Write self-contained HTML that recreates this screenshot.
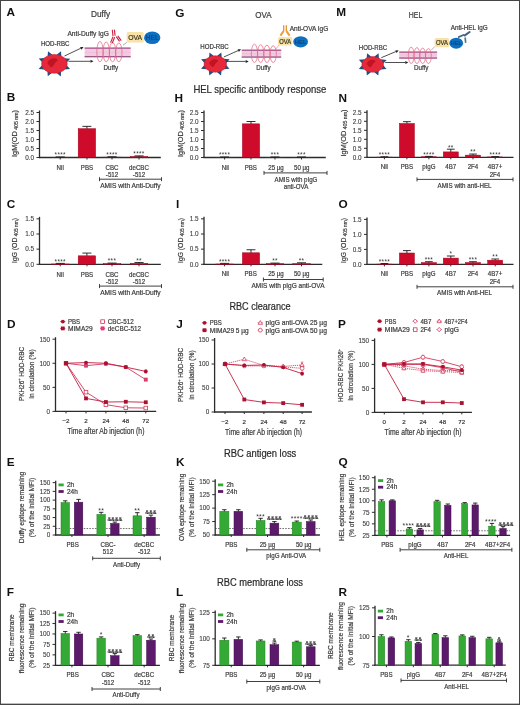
<!DOCTYPE html><html><head><meta charset="utf-8"><style>html,body{margin:0;padding:0;background:#fff;}svg{display:block;font-family:"Liberation Sans", sans-serif;filter:blur(0.3px);}.wrap{position:relative;width:520px;height:705px;overflow:hidden;}.frame{position:absolute;left:0;top:0;width:520px;height:705px;pointer-events:none;}</style></head><body><div class="wrap">
<svg width="520" height="705" viewBox="0 0 520 705">
<rect x="0" y="0" width="520" height="705" fill="#fff"/>
<text x="6.60" y="16.15" font-size="11.8" text-anchor="start" fill="#111" font-weight="bold">A</text>
<text x="100.50" y="17.35" font-size="8.2" text-anchor="middle" fill="#3a3a3a" font-weight="normal" textLength="19.20" lengthAdjust="spacingAndGlyphs" stroke="#3a3a3a" stroke-width="0.2">Duffy</text>
<text x="88.20" y="35.98" font-size="6.6" text-anchor="middle" fill="#3a3a3a" font-weight="normal" textLength="41.50" lengthAdjust="spacingAndGlyphs" stroke="#3a3a3a" stroke-width="0.2">Anti-Duffy IgG</text>
<text x="55.20" y="46.47" font-size="6.3" text-anchor="middle" fill="#3a3a3a" font-weight="normal" textLength="28.50" lengthAdjust="spacingAndGlyphs" stroke="#3a3a3a" stroke-width="0.2">HOD-RBC</text>
<polygon points="52.40,54.81 48.03,51.19 47.58,56.76" fill="#1d5282"/><polygon points="61.39,56.86 61.04,51.28 56.61,54.82" fill="#1d5282"/><polygon points="66.29,62.97 70.16,58.71 64.34,58.15" fill="#1d5282"/><polygon points="64.22,69.57 70.05,69.11 66.26,64.79" fill="#1d5282"/><polygon points="56.40,72.79 60.77,76.41 61.22,70.84" fill="#1d5282"/><polygon points="47.41,70.74 47.76,76.32 52.19,72.78" fill="#1d5282"/><polygon points="42.51,64.63 38.64,68.89 44.46,69.45" fill="#1d5282"/><polygon points="44.58,58.03 38.75,58.49 42.54,62.81" fill="#1d5282"/>
<ellipse cx="54.4" cy="63.8" rx="12.8" ry="9.4" fill="#e5293b" stroke="#d01a2e" stroke-width="0.6"/>
<path d="M47.36,63.33 C48.64,56.75 58.88,57.22 57.60,60.98 C54.40,61.45 53.76,68.03 50.56,67.09 Z" fill="#b8101e" opacity="0.85"/>
<line x1="64.50" y1="56.00" x2="80.79" y2="48.28" stroke="#222" stroke-width="0.8"/>
<polygon points="83.50,47.00 81.43,49.64 80.15,46.93" fill="#222"/>
<line x1="68.50" y1="61.30" x2="90.50" y2="61.30" stroke="#222" stroke-width="0.8"/>
<polygon points="93.50,61.30 90.50,62.80 90.50,59.80" fill="#222"/>
<rect x="84.60" y="47.50" width="46.10" height="9.80" fill="#f2cbe1" stroke="none" stroke-width="0"/>
<rect x="84.60" y="47.50" width="46.10" height="1.30" fill="#a8578c" stroke="none" stroke-width="0"/>
<rect x="84.60" y="56.00" width="46.10" height="1.30" fill="#9a5a88" stroke="none" stroke-width="0"/>
<line x1="84.60" y1="52.40" x2="130.70" y2="52.40" stroke="#e9b6d3" stroke-width="0.5"/>
<ellipse cx="99.95" cy="51.65" rx="3.15" ry="10.15" fill="none" stroke="#e5607c" stroke-width="0.7"/>
<ellipse cx="106.25" cy="51.90" rx="3.15" ry="9.90" fill="none" stroke="#e5607c" stroke-width="0.7"/>
<ellipse cx="112.55" cy="52.15" rx="3.15" ry="9.65" fill="none" stroke="#e5607c" stroke-width="0.7"/>
<ellipse cx="118.85" cy="52.40" rx="3.15" ry="9.40" fill="none" stroke="#e5607c" stroke-width="0.7"/>
<g stroke="#cc2444" stroke-width="1.15" stroke-linecap="butt" fill="none"><path d="M112.3,29.8 L113.0,36.0 M114.4,29.6 L115.1,35.8"/><path d="M113.0,36.6 L110.6,42.6 M114.6,37.2 L112.2,43.2"/><path d="M116.2,36.6 L119.6,41.4 M117.8,35.8 L121.2,40.6"/></g>
<text x="110.80" y="69.97" font-size="6.3" text-anchor="middle" fill="#3a3a3a" font-weight="normal" textLength="14.40" lengthAdjust="spacingAndGlyphs" stroke="#3a3a3a" stroke-width="0.2">Duffy</text>
<line x1="123.00" y1="45.20" x2="126.80" y2="42.40" stroke="#555" stroke-width="0.5"/>
<rect x="126.7" y="32.0" width="16.89999999999999" height="10.600000000000001" rx="1.5" fill="#f7e3a6"/>
<text x="135.15" y="39.89" font-size="7.2" text-anchor="middle" fill="#3a3320" font-weight="normal" textLength="13.86" lengthAdjust="spacingAndGlyphs" stroke="#3a3320" stroke-width="0.2">OVA</text>
<ellipse cx="152.2" cy="37.8" rx="8.2" ry="6.3" fill="#0d6fbf"/>
<text x="152.20" y="40.18" font-size="6.6" text-anchor="middle" fill="#0b4a8a" font-weight="normal" textLength="12.71" lengthAdjust="spacingAndGlyphs" stroke="#0b4a8a" stroke-width="0.2">HEL</text>
<text x="175.30" y="16.75" font-size="11.8" text-anchor="start" fill="#111" font-weight="bold">G</text>
<text x="263.40" y="17.85" font-size="8.2" text-anchor="middle" fill="#3a3a3a" font-weight="normal" textLength="16.30" lengthAdjust="spacingAndGlyphs" stroke="#3a3a3a" stroke-width="0.2">OVA</text>
<text x="214.50" y="49.27" font-size="6.3" text-anchor="middle" fill="#3a3a3a" font-weight="normal" textLength="28.50" lengthAdjust="spacingAndGlyphs" stroke="#3a3a3a" stroke-width="0.2">HOD-RBC</text>
<polygon points="213.85,56.03 209.53,52.50 209.03,57.98" fill="#1d5282"/><polygon points="221.72,58.07 221.32,52.59 216.93,56.04" fill="#1d5282"/><polygon points="225.83,63.58 229.58,59.35 223.88,58.76" fill="#1d5282"/><polygon points="223.77,69.34 229.48,68.85 225.80,64.55" fill="#1d5282"/><polygon points="216.75,71.97 221.07,75.50 221.57,70.02" fill="#1d5282"/><polygon points="208.88,69.93 209.28,75.41 213.67,71.96" fill="#1d5282"/><polygon points="204.77,64.42 201.02,68.65 206.72,69.24" fill="#1d5282"/><polygon points="206.83,58.66 201.12,59.15 204.80,63.45" fill="#1d5282"/>
<ellipse cx="215.3" cy="64.0" rx="11.2" ry="8.2" fill="#e5293b" stroke="#d01a2e" stroke-width="0.6"/>
<path d="M209.14,63.59 C210.26,57.85 219.22,58.26 218.10,61.54 C215.30,61.95 214.74,67.69 211.94,66.87 Z" fill="#b8101e" opacity="0.85"/>
<line x1="223.80" y1="57.00" x2="238.26" y2="50.53" stroke="#222" stroke-width="0.8"/>
<polygon points="241.00,49.30 238.87,51.89 237.65,49.16" fill="#222"/>
<line x1="226.50" y1="61.40" x2="245.70" y2="61.40" stroke="#222" stroke-width="0.8"/>
<polygon points="248.70,61.40 245.70,62.90 245.70,59.90" fill="#222"/>
<rect x="241.70" y="49.60" width="39.50" height="8.10" fill="#f2cbe1" stroke="none" stroke-width="0"/>
<rect x="241.70" y="49.60" width="39.50" height="1.30" fill="#a8578c" stroke="none" stroke-width="0"/>
<rect x="241.70" y="56.40" width="39.50" height="1.30" fill="#9a5a88" stroke="none" stroke-width="0"/>
<line x1="241.70" y1="53.65" x2="281.20" y2="53.65" stroke="#e9b6d3" stroke-width="0.5"/>
<ellipse cx="254.43" cy="53.35" rx="3.12" ry="9.15" fill="none" stroke="#e5607c" stroke-width="0.7"/>
<ellipse cx="260.68" cy="53.60" rx="3.12" ry="8.90" fill="none" stroke="#e5607c" stroke-width="0.7"/>
<ellipse cx="266.93" cy="53.85" rx="3.12" ry="8.65" fill="none" stroke="#e5607c" stroke-width="0.7"/>
<ellipse cx="273.18" cy="54.10" rx="3.12" ry="8.40" fill="none" stroke="#e5607c" stroke-width="0.7"/>
<text x="263.40" y="69.67" font-size="6.3" text-anchor="middle" fill="#3a3a3a" font-weight="normal" textLength="14.40" lengthAdjust="spacingAndGlyphs" stroke="#3a3a3a" stroke-width="0.2">Duffy</text>
<line x1="275.40" y1="49.50" x2="280.00" y2="44.00" stroke="#d87090" stroke-width="0.6"/>
<g stroke="#e8922c" fill="none" stroke-linecap="butt"><path d="M283.7,25.2 L283.7,31.0 M286.3,25.2 L286.3,31.0" stroke-width="1.3"/><path d="M283.6,31.0 L280.4,35.6 M286.4,31.0 L289.6,35.6" stroke-width="2.0" stroke="#ee9a3a"/></g>
<text x="309.00" y="30.58" font-size="6.6" text-anchor="middle" fill="#3a3a3a" font-weight="normal" textLength="38.50" lengthAdjust="spacingAndGlyphs" stroke="#3a3a3a" stroke-width="0.2">Anti-OVA IgG</text>
<rect x="278.0" y="37.0" width="14.399999999999977" height="8.399999999999999" rx="1.5" fill="#f7e3a6"/>
<text x="285.20" y="43.65" font-size="6.8" text-anchor="middle" fill="#3a3320" font-weight="normal" textLength="11.81" lengthAdjust="spacingAndGlyphs" stroke="#3a3320" stroke-width="0.2">OVA</text>
<ellipse cx="300.6" cy="41.8" rx="7.4" ry="5.6" fill="#0d6fbf"/>
<text x="300.60" y="43.89" font-size="5.8" text-anchor="middle" fill="#0b4a8a" font-weight="normal" textLength="11.47" lengthAdjust="spacingAndGlyphs" stroke="#0b4a8a" stroke-width="0.2">HEL</text>
<text x="336.20" y="15.85" font-size="11.8" text-anchor="start" fill="#111" font-weight="bold">M</text>
<text x="415.50" y="18.05" font-size="8.2" text-anchor="middle" fill="#3a3a3a" font-weight="normal" textLength="13.50" lengthAdjust="spacingAndGlyphs" stroke="#3a3a3a" stroke-width="0.2">HEL</text>
<text x="373.00" y="50.47" font-size="6.3" text-anchor="middle" fill="#3a3a3a" font-weight="normal" textLength="28.30" lengthAdjust="spacingAndGlyphs" stroke="#3a3a3a" stroke-width="0.2">HOD-RBC</text>
<polygon points="371.39,56.77 367.08,53.27 366.57,58.72" fill="#1d5282"/><polygon points="378.98,58.81 378.56,53.35 374.19,56.78" fill="#1d5282"/><polygon points="382.89,64.12 386.61,59.90 380.94,59.30" fill="#1d5282"/><polygon points="380.83,69.60 386.51,69.09 382.86,64.81" fill="#1d5282"/><polygon points="374.01,72.03 378.32,75.53 378.83,70.08" fill="#1d5282"/><polygon points="366.42,69.99 366.84,75.45 371.21,72.02" fill="#1d5282"/><polygon points="362.51,64.68 358.79,68.90 364.46,69.50" fill="#1d5282"/><polygon points="364.57,59.20 358.89,59.71 362.54,63.99" fill="#1d5282"/>
<ellipse cx="372.7" cy="64.4" rx="10.8" ry="7.8" fill="#e5293b" stroke="#d01a2e" stroke-width="0.6"/>
<path d="M366.76,64.01 C367.84,58.55 376.48,58.94 375.40,62.06 C372.70,62.45 372.16,67.91 369.46,67.13 Z" fill="#b8101e" opacity="0.85"/>
<line x1="381.30" y1="57.70" x2="395.93" y2="51.56" stroke="#222" stroke-width="0.8"/>
<polygon points="398.70,50.40 396.51,52.94 395.35,50.18" fill="#222"/>
<line x1="385.20" y1="62.50" x2="405.30" y2="62.50" stroke="#222" stroke-width="0.8"/>
<polygon points="408.30,62.50 405.30,64.00 405.30,61.00" fill="#222"/>
<rect x="399.20" y="51.50" width="37.90" height="7.20" fill="#f2cbe1" stroke="none" stroke-width="0"/>
<rect x="399.20" y="51.50" width="37.90" height="1.30" fill="#a8578c" stroke="none" stroke-width="0"/>
<rect x="399.20" y="57.40" width="37.90" height="1.30" fill="#9a5a88" stroke="none" stroke-width="0"/>
<line x1="399.20" y1="55.10" x2="437.10" y2="55.10" stroke="#e9b6d3" stroke-width="0.5"/>
<ellipse cx="411.18" cy="55.30" rx="2.88" ry="8.20" fill="none" stroke="#e5607c" stroke-width="0.7"/>
<ellipse cx="416.93" cy="55.55" rx="2.88" ry="7.95" fill="none" stroke="#e5607c" stroke-width="0.7"/>
<ellipse cx="422.68" cy="55.80" rx="2.88" ry="7.70" fill="none" stroke="#e5607c" stroke-width="0.7"/>
<ellipse cx="428.43" cy="56.05" rx="2.88" ry="7.45" fill="none" stroke="#e5607c" stroke-width="0.7"/>
<text x="421.20" y="70.07" font-size="6.3" text-anchor="middle" fill="#3a3a3a" font-weight="normal" textLength="14.50" lengthAdjust="spacingAndGlyphs" stroke="#3a3a3a" stroke-width="0.2">Duffy</text>
<text x="469.20" y="30.18" font-size="6.6" text-anchor="middle" fill="#3a3a3a" font-weight="normal" textLength="37.00" lengthAdjust="spacingAndGlyphs" stroke="#3a3a3a" stroke-width="0.2">Anti-HEL IgG</text>
<g stroke="#3d6384" fill="none" stroke-linecap="round"><path d="M458.8,37.0 L463.4,35.0" stroke-width="1.9"/><path d="M464.8,35.4 L469.6,32.0" stroke-width="2.1"/><path d="M465.2,38.2 L465.6,42.2" stroke-width="1.7" stroke="#4a7a8a"/></g>
<line x1="431.50" y1="50.00" x2="434.80" y2="46.60" stroke="#666" stroke-width="0.5"/>
<rect x="434.6" y="38.0" width="14.599999999999966" height="9.299999999999997" rx="1.5" fill="#f7e3a6"/>
<text x="441.90" y="45.03" font-size="6.6" text-anchor="middle" fill="#3a3320" font-weight="normal" textLength="11.97" lengthAdjust="spacingAndGlyphs" stroke="#3a3320" stroke-width="0.2">OVA</text>
<ellipse cx="456.2" cy="43.2" rx="6.9" ry="5.5" fill="#0d6fbf"/>
<text x="456.20" y="45.07" font-size="5.2" text-anchor="middle" fill="#0b4a8a" font-weight="normal" textLength="10.70" lengthAdjust="spacingAndGlyphs" stroke="#0b4a8a" stroke-width="0.2">HEL</text>
<text x="259.90" y="92.97" font-size="10.2" text-anchor="middle" fill="#2a2a2a" font-weight="normal" textLength="133.00" lengthAdjust="spacingAndGlyphs" stroke="#2a2a2a" stroke-width="0.2">HEL specific antibody response</text>
<text x="260.00" y="309.60" font-size="10.0" text-anchor="middle" fill="#2a2a2a" font-weight="normal" textLength="61.20" lengthAdjust="spacingAndGlyphs" stroke="#2a2a2a" stroke-width="0.2">RBC clearance</text>
<text x="260.10" y="457.40" font-size="10.0" text-anchor="middle" fill="#2a2a2a" font-weight="normal" textLength="72.40" lengthAdjust="spacingAndGlyphs" stroke="#2a2a2a" stroke-width="0.2">RBC antigen loss</text>
<text x="260.00" y="586.20" font-size="10.0" text-anchor="middle" fill="#2a2a2a" font-weight="normal" textLength="86.00" lengthAdjust="spacingAndGlyphs" stroke="#2a2a2a" stroke-width="0.2">RBC membrane loss</text>
<text x="6.80" y="100.95" font-size="11.8" text-anchor="start" fill="#111" font-weight="bold">B</text>
<line x1="39.50" y1="110.50" x2="39.50" y2="158.10" stroke="#2b2b2b" stroke-width="1.3"/>
<line x1="36.50" y1="157.50" x2="39.50" y2="157.50" stroke="#2b2b2b" stroke-width="1.0"/>
<text x="34.10" y="159.80" font-size="6.4" text-anchor="end" fill="#3a3a3a" font-weight="normal" stroke="#3a3a3a" stroke-width="0.1">0.0</text>
<line x1="36.50" y1="148.50" x2="39.50" y2="148.50" stroke="#2b2b2b" stroke-width="1.0"/>
<text x="34.10" y="150.80" font-size="6.4" text-anchor="end" fill="#3a3a3a" font-weight="normal" stroke="#3a3a3a" stroke-width="0.1">0.5</text>
<line x1="36.50" y1="139.50" x2="39.50" y2="139.50" stroke="#2b2b2b" stroke-width="1.0"/>
<text x="34.10" y="141.80" font-size="6.4" text-anchor="end" fill="#3a3a3a" font-weight="normal" stroke="#3a3a3a" stroke-width="0.1">1.0</text>
<line x1="36.50" y1="130.50" x2="39.50" y2="130.50" stroke="#2b2b2b" stroke-width="1.0"/>
<text x="34.10" y="132.80" font-size="6.4" text-anchor="end" fill="#3a3a3a" font-weight="normal" stroke="#3a3a3a" stroke-width="0.1">1.5</text>
<line x1="36.50" y1="121.50" x2="39.50" y2="121.50" stroke="#2b2b2b" stroke-width="1.0"/>
<text x="34.10" y="123.80" font-size="6.4" text-anchor="end" fill="#3a3a3a" font-weight="normal" stroke="#3a3a3a" stroke-width="0.1">2.0</text>
<line x1="36.50" y1="112.50" x2="39.50" y2="112.50" stroke="#2b2b2b" stroke-width="1.0"/>
<text x="34.10" y="114.80" font-size="6.4" text-anchor="end" fill="#3a3a3a" font-weight="normal" stroke="#3a3a3a" stroke-width="0.1">2.5</text>
<line x1="38.90" y1="157.50" x2="160.80" y2="157.50" stroke="#2b2b2b" stroke-width="1.3"/>
<line x1="60.20" y1="157.50" x2="60.20" y2="159.50" stroke="#2b2b2b" stroke-width="1.0"/>
<line x1="87.00" y1="157.50" x2="87.00" y2="159.50" stroke="#2b2b2b" stroke-width="1.0"/>
<line x1="112.00" y1="157.50" x2="112.00" y2="159.50" stroke="#2b2b2b" stroke-width="1.0"/>
<line x1="139.00" y1="157.50" x2="139.00" y2="159.50" stroke="#2b2b2b" stroke-width="1.0"/>
<rect x="51.50" y="157.23" width="17.50" height="0.27" fill="#cf0b2b" stroke="#a3001c" stroke-width="0.5"/>
<line x1="60.25" y1="157.23" x2="60.25" y2="156.96" stroke="#1a1a1a" stroke-width="0.9"/>
<line x1="55.70" y1="156.96" x2="64.80" y2="156.96" stroke="#1a1a1a" stroke-width="0.9"/>
<text x="60.25" y="157.26" font-size="6.4" text-anchor="middle" fill="#333" font-weight="normal" letter-spacing="0.35">****</text>
<rect x="78.20" y="128.70" width="17.40" height="28.80" fill="#cf0b2b" stroke="#a3001c" stroke-width="0.5"/>
<line x1="86.90" y1="128.70" x2="86.90" y2="126.36" stroke="#1a1a1a" stroke-width="0.9"/>
<line x1="82.38" y1="126.36" x2="91.42" y2="126.36" stroke="#1a1a1a" stroke-width="0.9"/>
<rect x="103.30" y="157.14" width="17.50" height="0.36" fill="#cf0b2b" stroke="#a3001c" stroke-width="0.5"/>
<line x1="112.05" y1="157.14" x2="112.05" y2="156.78" stroke="#1a1a1a" stroke-width="0.9"/>
<line x1="107.50" y1="156.78" x2="116.60" y2="156.78" stroke="#1a1a1a" stroke-width="0.9"/>
<text x="112.05" y="157.08" font-size="6.4" text-anchor="middle" fill="#333" font-weight="normal" letter-spacing="0.35">****</text>
<rect x="130.30" y="156.60" width="17.50" height="0.90" fill="#cf0b2b" stroke="#a3001c" stroke-width="0.5"/>
<line x1="139.05" y1="156.60" x2="139.05" y2="155.88" stroke="#1a1a1a" stroke-width="0.9"/>
<line x1="134.50" y1="155.88" x2="143.60" y2="155.88" stroke="#1a1a1a" stroke-width="0.9"/>
<text x="139.05" y="156.18" font-size="6.4" text-anchor="middle" fill="#333" font-weight="normal" letter-spacing="0.35">****</text>
<text x="60.20" y="169.52" font-size="7.0" text-anchor="middle" fill="#3a3a3a" font-weight="normal" textLength="7.19" lengthAdjust="spacingAndGlyphs" stroke="#3a3a3a" stroke-width="0.2">Nil</text>
<text x="87.00" y="169.52" font-size="7.0" text-anchor="middle" fill="#3a3a3a" font-weight="normal" textLength="12.33" lengthAdjust="spacingAndGlyphs" stroke="#3a3a3a" stroke-width="0.2">PBS</text>
<text x="112.00" y="169.52" font-size="7.0" text-anchor="middle" fill="#3a3a3a" font-weight="normal" textLength="13.01" lengthAdjust="spacingAndGlyphs" stroke="#3a3a3a" stroke-width="0.2">CBC</text>
<text x="112.00" y="176.62" font-size="7.0" text-anchor="middle" fill="#3a3a3a" font-weight="normal" textLength="12.33" lengthAdjust="spacingAndGlyphs" stroke="#3a3a3a" stroke-width="0.2">-512</text>
<text x="139.00" y="169.52" font-size="7.0" text-anchor="middle" fill="#3a3a3a" font-weight="normal" textLength="19.86" lengthAdjust="spacingAndGlyphs" stroke="#3a3a3a" stroke-width="0.2">deCBC</text>
<text x="139.00" y="176.62" font-size="7.0" text-anchor="middle" fill="#3a3a3a" font-weight="normal" textLength="12.33" lengthAdjust="spacingAndGlyphs" stroke="#3a3a3a" stroke-width="0.2">-512</text>
<line x1="99.50" y1="179.20" x2="161.50" y2="179.20" stroke="#2b2b2b" stroke-width="0.9"/>
<line x1="99.50" y1="177.20" x2="99.50" y2="181.20" stroke="#2b2b2b" stroke-width="0.9"/>
<line x1="161.50" y1="177.20" x2="161.50" y2="181.20" stroke="#2b2b2b" stroke-width="0.9"/>
<text x="130.40" y="187.52" font-size="7.0" text-anchor="middle" fill="#3a3a3a" font-weight="normal" textLength="60.50" lengthAdjust="spacingAndGlyphs" stroke="#3a3a3a" stroke-width="0.2">AMIS with Anti-Duffy</text>
<text transform="translate(16.84,133.50) rotate(-90)" font-size="7.9" text-anchor="middle" fill="#3a3a3a" font-weight="normal" textLength="47.00" lengthAdjust="spacingAndGlyphs" stroke="#3a3a3a" stroke-width="0.2">IgM(OD<tspan font-size="5.6" dy="1.5"> 405 nm</tspan><tspan dy="-1.5">)</tspan></text>
<text x="6.80" y="208.15" font-size="11.8" text-anchor="start" fill="#111" font-weight="bold">C</text>
<line x1="39.50" y1="216.85" x2="39.50" y2="264.90" stroke="#2b2b2b" stroke-width="1.3"/>
<line x1="36.50" y1="264.30" x2="39.50" y2="264.30" stroke="#2b2b2b" stroke-width="1.0"/>
<text x="34.10" y="266.60" font-size="6.4" text-anchor="end" fill="#3a3a3a" font-weight="normal" stroke="#3a3a3a" stroke-width="0.1">0.0</text>
<line x1="36.50" y1="249.15" x2="39.50" y2="249.15" stroke="#2b2b2b" stroke-width="1.0"/>
<text x="34.10" y="251.45" font-size="6.4" text-anchor="end" fill="#3a3a3a" font-weight="normal" stroke="#3a3a3a" stroke-width="0.1">0.5</text>
<line x1="36.50" y1="234.00" x2="39.50" y2="234.00" stroke="#2b2b2b" stroke-width="1.0"/>
<text x="34.10" y="236.30" font-size="6.4" text-anchor="end" fill="#3a3a3a" font-weight="normal" stroke="#3a3a3a" stroke-width="0.1">1.0</text>
<line x1="36.50" y1="218.85" x2="39.50" y2="218.85" stroke="#2b2b2b" stroke-width="1.0"/>
<text x="34.10" y="221.15" font-size="6.4" text-anchor="end" fill="#3a3a3a" font-weight="normal" stroke="#3a3a3a" stroke-width="0.1">1.5</text>
<line x1="38.90" y1="264.30" x2="160.80" y2="264.30" stroke="#2b2b2b" stroke-width="1.3"/>
<line x1="60.20" y1="264.30" x2="60.20" y2="266.30" stroke="#2b2b2b" stroke-width="1.0"/>
<line x1="87.00" y1="264.30" x2="87.00" y2="266.30" stroke="#2b2b2b" stroke-width="1.0"/>
<line x1="112.00" y1="264.30" x2="112.00" y2="266.30" stroke="#2b2b2b" stroke-width="1.0"/>
<line x1="139.00" y1="264.30" x2="139.00" y2="266.30" stroke="#2b2b2b" stroke-width="1.0"/>
<rect x="51.50" y="264.00" width="17.50" height="0.30" fill="#cf0b2b" stroke="#a3001c" stroke-width="0.5"/>
<line x1="60.25" y1="264.00" x2="60.25" y2="263.39" stroke="#1a1a1a" stroke-width="0.9"/>
<line x1="55.70" y1="263.39" x2="64.80" y2="263.39" stroke="#1a1a1a" stroke-width="0.9"/>
<text x="60.25" y="263.69" font-size="6.4" text-anchor="middle" fill="#333" font-weight="normal" letter-spacing="0.35">****</text>
<rect x="78.20" y="255.82" width="17.40" height="8.48" fill="#cf0b2b" stroke="#a3001c" stroke-width="0.5"/>
<line x1="86.90" y1="255.82" x2="86.90" y2="253.09" stroke="#1a1a1a" stroke-width="0.9"/>
<line x1="82.38" y1="253.09" x2="91.42" y2="253.09" stroke="#1a1a1a" stroke-width="0.9"/>
<rect x="103.30" y="263.69" width="17.50" height="0.61" fill="#cf0b2b" stroke="#a3001c" stroke-width="0.5"/>
<line x1="112.05" y1="263.69" x2="112.05" y2="263.09" stroke="#1a1a1a" stroke-width="0.9"/>
<line x1="107.50" y1="263.09" x2="116.60" y2="263.09" stroke="#1a1a1a" stroke-width="0.9"/>
<text x="112.05" y="263.39" font-size="6.4" text-anchor="middle" fill="#333" font-weight="normal" letter-spacing="0.35">***</text>
<rect x="130.30" y="263.39" width="17.50" height="0.91" fill="#cf0b2b" stroke="#a3001c" stroke-width="0.5"/>
<line x1="139.05" y1="263.39" x2="139.05" y2="262.48" stroke="#1a1a1a" stroke-width="0.9"/>
<line x1="134.50" y1="262.48" x2="143.60" y2="262.48" stroke="#1a1a1a" stroke-width="0.9"/>
<text x="139.05" y="262.78" font-size="6.4" text-anchor="middle" fill="#333" font-weight="normal" letter-spacing="0.35">**</text>
<text x="60.20" y="276.52" font-size="7.0" text-anchor="middle" fill="#3a3a3a" font-weight="normal" textLength="7.19" lengthAdjust="spacingAndGlyphs" stroke="#3a3a3a" stroke-width="0.2">Nil</text>
<text x="87.00" y="276.52" font-size="7.0" text-anchor="middle" fill="#3a3a3a" font-weight="normal" textLength="12.33" lengthAdjust="spacingAndGlyphs" stroke="#3a3a3a" stroke-width="0.2">PBS</text>
<text x="112.00" y="276.52" font-size="7.0" text-anchor="middle" fill="#3a3a3a" font-weight="normal" textLength="13.01" lengthAdjust="spacingAndGlyphs" stroke="#3a3a3a" stroke-width="0.2">CBC</text>
<text x="112.00" y="283.92" font-size="7.0" text-anchor="middle" fill="#3a3a3a" font-weight="normal" textLength="12.33" lengthAdjust="spacingAndGlyphs" stroke="#3a3a3a" stroke-width="0.2">-512</text>
<text x="139.00" y="276.52" font-size="7.0" text-anchor="middle" fill="#3a3a3a" font-weight="normal" textLength="19.86" lengthAdjust="spacingAndGlyphs" stroke="#3a3a3a" stroke-width="0.2">deCBC</text>
<text x="139.00" y="283.92" font-size="7.0" text-anchor="middle" fill="#3a3a3a" font-weight="normal" textLength="12.33" lengthAdjust="spacingAndGlyphs" stroke="#3a3a3a" stroke-width="0.2">-512</text>
<line x1="99.50" y1="286.10" x2="161.50" y2="286.10" stroke="#2b2b2b" stroke-width="0.9"/>
<line x1="99.50" y1="284.10" x2="99.50" y2="288.10" stroke="#2b2b2b" stroke-width="0.9"/>
<line x1="161.50" y1="284.10" x2="161.50" y2="288.10" stroke="#2b2b2b" stroke-width="0.9"/>
<text x="130.40" y="295.12" font-size="7.0" text-anchor="middle" fill="#3a3a3a" font-weight="normal" textLength="60.50" lengthAdjust="spacingAndGlyphs" stroke="#3a3a3a" stroke-width="0.2">AMIS with Anti-Duffy</text>
<text transform="translate(16.84,240.50) rotate(-90)" font-size="7.9" text-anchor="middle" fill="#3a3a3a" font-weight="normal" textLength="45.00" lengthAdjust="spacingAndGlyphs" stroke="#3a3a3a" stroke-width="0.2">IgG (OD<tspan font-size="5.6" dy="1.5"> 405 nm</tspan><tspan dy="-1.5">)</tspan></text>
<text x="174.60" y="101.75" font-size="11.8" text-anchor="start" fill="#111" font-weight="bold">H</text>
<line x1="204.00" y1="110.50" x2="204.00" y2="158.10" stroke="#2b2b2b" stroke-width="1.3"/>
<line x1="201.00" y1="157.50" x2="204.00" y2="157.50" stroke="#2b2b2b" stroke-width="1.0"/>
<text x="198.60" y="159.80" font-size="6.4" text-anchor="end" fill="#3a3a3a" font-weight="normal" stroke="#3a3a3a" stroke-width="0.1">0.0</text>
<line x1="201.00" y1="148.50" x2="204.00" y2="148.50" stroke="#2b2b2b" stroke-width="1.0"/>
<text x="198.60" y="150.80" font-size="6.4" text-anchor="end" fill="#3a3a3a" font-weight="normal" stroke="#3a3a3a" stroke-width="0.1">0.5</text>
<line x1="201.00" y1="139.50" x2="204.00" y2="139.50" stroke="#2b2b2b" stroke-width="1.0"/>
<text x="198.60" y="141.80" font-size="6.4" text-anchor="end" fill="#3a3a3a" font-weight="normal" stroke="#3a3a3a" stroke-width="0.1">1.0</text>
<line x1="201.00" y1="130.50" x2="204.00" y2="130.50" stroke="#2b2b2b" stroke-width="1.0"/>
<text x="198.60" y="132.80" font-size="6.4" text-anchor="end" fill="#3a3a3a" font-weight="normal" stroke="#3a3a3a" stroke-width="0.1">1.5</text>
<line x1="201.00" y1="121.50" x2="204.00" y2="121.50" stroke="#2b2b2b" stroke-width="1.0"/>
<text x="198.60" y="123.80" font-size="6.4" text-anchor="end" fill="#3a3a3a" font-weight="normal" stroke="#3a3a3a" stroke-width="0.1">2.0</text>
<line x1="201.00" y1="112.50" x2="204.00" y2="112.50" stroke="#2b2b2b" stroke-width="1.0"/>
<text x="198.60" y="114.80" font-size="6.4" text-anchor="end" fill="#3a3a3a" font-weight="normal" stroke="#3a3a3a" stroke-width="0.1">2.5</text>
<line x1="203.40" y1="157.50" x2="325.80" y2="157.50" stroke="#2b2b2b" stroke-width="1.3"/>
<line x1="224.60" y1="157.50" x2="224.60" y2="159.50" stroke="#2b2b2b" stroke-width="1.0"/>
<line x1="251.00" y1="157.50" x2="251.00" y2="159.50" stroke="#2b2b2b" stroke-width="1.0"/>
<line x1="275.00" y1="157.50" x2="275.00" y2="159.50" stroke="#2b2b2b" stroke-width="1.0"/>
<line x1="301.50" y1="157.50" x2="301.50" y2="159.50" stroke="#2b2b2b" stroke-width="1.0"/>
<rect x="215.90" y="157.32" width="17.40" height="0.18" fill="#cf0b2b" stroke="#a3001c" stroke-width="0.5"/>
<line x1="224.60" y1="157.32" x2="224.60" y2="156.96" stroke="#1a1a1a" stroke-width="0.9"/>
<line x1="220.08" y1="156.96" x2="229.12" y2="156.96" stroke="#1a1a1a" stroke-width="0.9"/>
<text x="224.60" y="157.26" font-size="6.4" text-anchor="middle" fill="#333" font-weight="normal" letter-spacing="0.35">****</text>
<rect x="242.40" y="123.84" width="17.20" height="33.66" fill="#cf0b2b" stroke="#a3001c" stroke-width="0.5"/>
<line x1="251.00" y1="123.84" x2="251.00" y2="121.50" stroke="#1a1a1a" stroke-width="0.9"/>
<line x1="246.53" y1="121.50" x2="255.47" y2="121.50" stroke="#1a1a1a" stroke-width="0.9"/>
<rect x="266.30" y="157.32" width="17.40" height="0.18" fill="#cf0b2b" stroke="#a3001c" stroke-width="0.5"/>
<line x1="275.00" y1="157.32" x2="275.00" y2="156.96" stroke="#1a1a1a" stroke-width="0.9"/>
<line x1="270.48" y1="156.96" x2="279.52" y2="156.96" stroke="#1a1a1a" stroke-width="0.9"/>
<text x="275.00" y="157.26" font-size="6.4" text-anchor="middle" fill="#333" font-weight="normal" letter-spacing="0.35">***</text>
<rect x="292.80" y="157.32" width="17.40" height="0.18" fill="#cf0b2b" stroke="#a3001c" stroke-width="0.5"/>
<line x1="301.50" y1="157.32" x2="301.50" y2="156.96" stroke="#1a1a1a" stroke-width="0.9"/>
<line x1="296.98" y1="156.96" x2="306.02" y2="156.96" stroke="#1a1a1a" stroke-width="0.9"/>
<text x="301.50" y="157.26" font-size="6.4" text-anchor="middle" fill="#333" font-weight="normal" letter-spacing="0.35">***</text>
<text x="225.30" y="169.52" font-size="7.0" text-anchor="middle" fill="#3a3a3a" font-weight="normal" textLength="7.19" lengthAdjust="spacingAndGlyphs" stroke="#3a3a3a" stroke-width="0.2">Nil</text>
<text x="250.80" y="169.52" font-size="7.0" text-anchor="middle" fill="#3a3a3a" font-weight="normal" textLength="12.33" lengthAdjust="spacingAndGlyphs" stroke="#3a3a3a" stroke-width="0.2">PBS</text>
<text x="276.00" y="169.52" font-size="7.0" text-anchor="middle" fill="#3a3a3a" font-weight="normal" textLength="15.54" lengthAdjust="spacingAndGlyphs" stroke="#3a3a3a" stroke-width="0.2">25 µg</text>
<text x="301.80" y="169.52" font-size="7.0" text-anchor="middle" fill="#3a3a3a" font-weight="normal" textLength="15.54" lengthAdjust="spacingAndGlyphs" stroke="#3a3a3a" stroke-width="0.2">50 µg</text>
<line x1="264.00" y1="172.90" x2="327.00" y2="172.90" stroke="#2b2b2b" stroke-width="0.9"/>
<line x1="264.00" y1="170.90" x2="264.00" y2="174.90" stroke="#2b2b2b" stroke-width="0.9"/>
<line x1="327.00" y1="170.90" x2="327.00" y2="174.90" stroke="#2b2b2b" stroke-width="0.9"/>
<text x="296.00" y="181.52" font-size="7.0" text-anchor="middle" fill="#3a3a3a" font-weight="normal" textLength="42.79" lengthAdjust="spacingAndGlyphs" stroke="#3a3a3a" stroke-width="0.2">AMIS with pIgG</text>
<text x="296.00" y="189.12" font-size="7.0" text-anchor="middle" fill="#3a3a3a" font-weight="normal" textLength="24.53" lengthAdjust="spacingAndGlyphs" stroke="#3a3a3a" stroke-width="0.2">anti-OVA</text>
<text transform="translate(182.54,133.50) rotate(-90)" font-size="7.9" text-anchor="middle" fill="#3a3a3a" font-weight="normal" textLength="47.00" lengthAdjust="spacingAndGlyphs" stroke="#3a3a3a" stroke-width="0.2">IgM(OD<tspan font-size="5.6" dy="1.5"> 405 nm</tspan><tspan dy="-1.5">)</tspan></text>
<text x="176.00" y="208.15" font-size="11.8" text-anchor="start" fill="#111" font-weight="bold">I</text>
<line x1="204.00" y1="216.85" x2="204.00" y2="264.90" stroke="#2b2b2b" stroke-width="1.3"/>
<line x1="201.00" y1="264.30" x2="204.00" y2="264.30" stroke="#2b2b2b" stroke-width="1.0"/>
<text x="198.60" y="266.60" font-size="6.4" text-anchor="end" fill="#3a3a3a" font-weight="normal" stroke="#3a3a3a" stroke-width="0.1">0.0</text>
<line x1="201.00" y1="249.15" x2="204.00" y2="249.15" stroke="#2b2b2b" stroke-width="1.0"/>
<text x="198.60" y="251.45" font-size="6.4" text-anchor="end" fill="#3a3a3a" font-weight="normal" stroke="#3a3a3a" stroke-width="0.1">0.5</text>
<line x1="201.00" y1="234.00" x2="204.00" y2="234.00" stroke="#2b2b2b" stroke-width="1.0"/>
<text x="198.60" y="236.30" font-size="6.4" text-anchor="end" fill="#3a3a3a" font-weight="normal" stroke="#3a3a3a" stroke-width="0.1">1.0</text>
<line x1="201.00" y1="218.85" x2="204.00" y2="218.85" stroke="#2b2b2b" stroke-width="1.0"/>
<text x="198.60" y="221.15" font-size="6.4" text-anchor="end" fill="#3a3a3a" font-weight="normal" stroke="#3a3a3a" stroke-width="0.1">1.5</text>
<line x1="203.40" y1="264.30" x2="322.30" y2="264.30" stroke="#2b2b2b" stroke-width="1.3"/>
<line x1="224.60" y1="264.30" x2="224.60" y2="266.30" stroke="#2b2b2b" stroke-width="1.0"/>
<line x1="251.00" y1="264.30" x2="251.00" y2="266.30" stroke="#2b2b2b" stroke-width="1.0"/>
<line x1="275.00" y1="264.30" x2="275.00" y2="266.30" stroke="#2b2b2b" stroke-width="1.0"/>
<line x1="301.50" y1="264.30" x2="301.50" y2="266.30" stroke="#2b2b2b" stroke-width="1.0"/>
<rect x="215.90" y="264.00" width="17.40" height="0.30" fill="#cf0b2b" stroke="#a3001c" stroke-width="0.5"/>
<line x1="224.60" y1="264.00" x2="224.60" y2="263.39" stroke="#1a1a1a" stroke-width="0.9"/>
<line x1="220.08" y1="263.39" x2="229.12" y2="263.39" stroke="#1a1a1a" stroke-width="0.9"/>
<text x="224.60" y="263.69" font-size="6.4" text-anchor="middle" fill="#333" font-weight="normal" letter-spacing="0.35">****</text>
<rect x="242.40" y="252.79" width="17.20" height="11.51" fill="#cf0b2b" stroke="#a3001c" stroke-width="0.5"/>
<line x1="251.00" y1="252.79" x2="251.00" y2="249.76" stroke="#1a1a1a" stroke-width="0.9"/>
<line x1="246.53" y1="249.76" x2="255.47" y2="249.76" stroke="#1a1a1a" stroke-width="0.9"/>
<rect x="266.30" y="263.69" width="17.40" height="0.61" fill="#cf0b2b" stroke="#a3001c" stroke-width="0.5"/>
<line x1="275.00" y1="263.69" x2="275.00" y2="263.09" stroke="#1a1a1a" stroke-width="0.9"/>
<line x1="270.48" y1="263.09" x2="279.52" y2="263.09" stroke="#1a1a1a" stroke-width="0.9"/>
<text x="275.00" y="263.39" font-size="6.4" text-anchor="middle" fill="#333" font-weight="normal" letter-spacing="0.35">**</text>
<rect x="292.80" y="263.69" width="17.40" height="0.61" fill="#cf0b2b" stroke="#a3001c" stroke-width="0.5"/>
<line x1="301.50" y1="263.69" x2="301.50" y2="262.79" stroke="#1a1a1a" stroke-width="0.9"/>
<line x1="296.98" y1="262.79" x2="306.02" y2="262.79" stroke="#1a1a1a" stroke-width="0.9"/>
<text x="301.50" y="263.09" font-size="6.4" text-anchor="middle" fill="#333" font-weight="normal" letter-spacing="0.35">**</text>
<text x="225.30" y="276.32" font-size="7.0" text-anchor="middle" fill="#3a3a3a" font-weight="normal" textLength="7.19" lengthAdjust="spacingAndGlyphs" stroke="#3a3a3a" stroke-width="0.2">Nil</text>
<text x="250.60" y="276.32" font-size="7.0" text-anchor="middle" fill="#3a3a3a" font-weight="normal" textLength="12.33" lengthAdjust="spacingAndGlyphs" stroke="#3a3a3a" stroke-width="0.2">PBS</text>
<text x="275.90" y="276.32" font-size="7.0" text-anchor="middle" fill="#3a3a3a" font-weight="normal" textLength="15.54" lengthAdjust="spacingAndGlyphs" stroke="#3a3a3a" stroke-width="0.2">25 µg</text>
<text x="301.70" y="276.32" font-size="7.0" text-anchor="middle" fill="#3a3a3a" font-weight="normal" textLength="15.54" lengthAdjust="spacingAndGlyphs" stroke="#3a3a3a" stroke-width="0.2">50 µg</text>
<line x1="263.40" y1="279.50" x2="323.20" y2="279.50" stroke="#2b2b2b" stroke-width="0.9"/>
<line x1="263.40" y1="277.50" x2="263.40" y2="281.50" stroke="#2b2b2b" stroke-width="0.9"/>
<line x1="323.20" y1="277.50" x2="323.20" y2="281.50" stroke="#2b2b2b" stroke-width="0.9"/>
<text x="288.00" y="287.92" font-size="7.0" text-anchor="middle" fill="#3a3a3a" font-weight="normal" textLength="73.00" lengthAdjust="spacingAndGlyphs" stroke="#3a3a3a" stroke-width="0.2">AMIS with pIgG anti-OVA</text>
<text transform="translate(182.54,240.50) rotate(-90)" font-size="7.9" text-anchor="middle" fill="#3a3a3a" font-weight="normal" textLength="45.00" lengthAdjust="spacingAndGlyphs" stroke="#3a3a3a" stroke-width="0.2">IgG (OD<tspan font-size="5.6" dy="1.5"> 405 nm</tspan><tspan dy="-1.5">)</tspan></text>
<text x="338.40" y="101.75" font-size="11.8" text-anchor="start" fill="#111" font-weight="bold">N</text>
<line x1="367.00" y1="110.30" x2="367.00" y2="157.90" stroke="#2b2b2b" stroke-width="1.3"/>
<line x1="364.00" y1="157.30" x2="367.00" y2="157.30" stroke="#2b2b2b" stroke-width="1.0"/>
<text x="361.60" y="159.60" font-size="6.4" text-anchor="end" fill="#3a3a3a" font-weight="normal" stroke="#3a3a3a" stroke-width="0.1">0.0</text>
<line x1="364.00" y1="148.30" x2="367.00" y2="148.30" stroke="#2b2b2b" stroke-width="1.0"/>
<text x="361.60" y="150.60" font-size="6.4" text-anchor="end" fill="#3a3a3a" font-weight="normal" stroke="#3a3a3a" stroke-width="0.1">0.5</text>
<line x1="364.00" y1="139.30" x2="367.00" y2="139.30" stroke="#2b2b2b" stroke-width="1.0"/>
<text x="361.60" y="141.60" font-size="6.4" text-anchor="end" fill="#3a3a3a" font-weight="normal" stroke="#3a3a3a" stroke-width="0.1">1.0</text>
<line x1="364.00" y1="130.30" x2="367.00" y2="130.30" stroke="#2b2b2b" stroke-width="1.0"/>
<text x="361.60" y="132.60" font-size="6.4" text-anchor="end" fill="#3a3a3a" font-weight="normal" stroke="#3a3a3a" stroke-width="0.1">1.5</text>
<line x1="364.00" y1="121.30" x2="367.00" y2="121.30" stroke="#2b2b2b" stroke-width="1.0"/>
<text x="361.60" y="123.60" font-size="6.4" text-anchor="end" fill="#3a3a3a" font-weight="normal" stroke="#3a3a3a" stroke-width="0.1">2.0</text>
<line x1="364.00" y1="112.30" x2="367.00" y2="112.30" stroke="#2b2b2b" stroke-width="1.0"/>
<text x="361.60" y="114.60" font-size="6.4" text-anchor="end" fill="#3a3a3a" font-weight="normal" stroke="#3a3a3a" stroke-width="0.1">2.5</text>
<line x1="366.40" y1="157.30" x2="513.50" y2="157.30" stroke="#2b2b2b" stroke-width="1.3"/>
<line x1="384.40" y1="157.30" x2="384.40" y2="159.30" stroke="#2b2b2b" stroke-width="1.0"/>
<line x1="406.90" y1="157.30" x2="406.90" y2="159.30" stroke="#2b2b2b" stroke-width="1.0"/>
<line x1="428.90" y1="157.30" x2="428.90" y2="159.30" stroke="#2b2b2b" stroke-width="1.0"/>
<line x1="450.80" y1="157.30" x2="450.80" y2="159.30" stroke="#2b2b2b" stroke-width="1.0"/>
<line x1="473.00" y1="157.30" x2="473.00" y2="159.30" stroke="#2b2b2b" stroke-width="1.0"/>
<line x1="495.20" y1="157.30" x2="495.20" y2="159.30" stroke="#2b2b2b" stroke-width="1.0"/>
<rect x="376.90" y="157.12" width="15.00" height="0.18" fill="#cf0b2b" stroke="#a3001c" stroke-width="0.5"/>
<line x1="384.40" y1="157.12" x2="384.40" y2="156.76" stroke="#1a1a1a" stroke-width="0.9"/>
<line x1="380.50" y1="156.76" x2="388.30" y2="156.76" stroke="#1a1a1a" stroke-width="0.9"/>
<text x="384.40" y="157.06" font-size="6.4" text-anchor="middle" fill="#333" font-weight="normal" letter-spacing="0.35">****</text>
<rect x="399.40" y="123.46" width="15.00" height="33.84" fill="#cf0b2b" stroke="#a3001c" stroke-width="0.5"/>
<line x1="406.90" y1="123.46" x2="406.90" y2="121.66" stroke="#1a1a1a" stroke-width="0.9"/>
<line x1="403.00" y1="121.66" x2="410.80" y2="121.66" stroke="#1a1a1a" stroke-width="0.9"/>
<rect x="421.40" y="156.76" width="15.00" height="0.54" fill="#cf0b2b" stroke="#a3001c" stroke-width="0.5"/>
<line x1="428.90" y1="156.76" x2="428.90" y2="156.40" stroke="#1a1a1a" stroke-width="0.9"/>
<line x1="425.00" y1="156.40" x2="432.80" y2="156.40" stroke="#1a1a1a" stroke-width="0.9"/>
<text x="428.90" y="156.70" font-size="6.4" text-anchor="middle" fill="#333" font-weight="normal" letter-spacing="0.35">****</text>
<rect x="443.30" y="151.90" width="15.00" height="5.40" fill="#cf0b2b" stroke="#a3001c" stroke-width="0.5"/>
<line x1="450.80" y1="151.90" x2="450.80" y2="149.20" stroke="#1a1a1a" stroke-width="0.9"/>
<line x1="446.90" y1="149.20" x2="454.70" y2="149.20" stroke="#1a1a1a" stroke-width="0.9"/>
<text x="450.80" y="149.50" font-size="6.4" text-anchor="middle" fill="#333" font-weight="normal" letter-spacing="0.35">**</text>
<rect x="465.50" y="155.14" width="15.00" height="2.16" fill="#cf0b2b" stroke="#a3001c" stroke-width="0.5"/>
<line x1="473.00" y1="155.14" x2="473.00" y2="154.06" stroke="#1a1a1a" stroke-width="0.9"/>
<line x1="469.10" y1="154.06" x2="476.90" y2="154.06" stroke="#1a1a1a" stroke-width="0.9"/>
<text x="473.00" y="154.36" font-size="6.4" text-anchor="middle" fill="#333" font-weight="normal" letter-spacing="0.35">**</text>
<rect x="487.70" y="156.94" width="15.00" height="0.36" fill="#cf0b2b" stroke="#a3001c" stroke-width="0.5"/>
<line x1="495.20" y1="156.94" x2="495.20" y2="156.58" stroke="#1a1a1a" stroke-width="0.9"/>
<line x1="491.30" y1="156.58" x2="499.10" y2="156.58" stroke="#1a1a1a" stroke-width="0.9"/>
<text x="495.20" y="156.88" font-size="6.4" text-anchor="middle" fill="#333" font-weight="normal" letter-spacing="0.35">****</text>
<text x="384.40" y="169.12" font-size="7.0" text-anchor="middle" fill="#3a3a3a" font-weight="normal" textLength="7.19" lengthAdjust="spacingAndGlyphs" stroke="#3a3a3a" stroke-width="0.2">Nil</text>
<text x="406.90" y="169.12" font-size="7.0" text-anchor="middle" fill="#3a3a3a" font-weight="normal" textLength="12.33" lengthAdjust="spacingAndGlyphs" stroke="#3a3a3a" stroke-width="0.2">PBS</text>
<text x="428.90" y="169.12" font-size="7.0" text-anchor="middle" fill="#3a3a3a" font-weight="normal" textLength="13.35" lengthAdjust="spacingAndGlyphs" stroke="#3a3a3a" stroke-width="0.2">pIgG</text>
<text x="450.80" y="169.12" font-size="7.0" text-anchor="middle" fill="#3a3a3a" font-weight="normal" textLength="10.96" lengthAdjust="spacingAndGlyphs" stroke="#3a3a3a" stroke-width="0.2">4B7</text>
<text x="473.00" y="169.12" font-size="7.0" text-anchor="middle" fill="#3a3a3a" font-weight="normal" textLength="10.61" lengthAdjust="spacingAndGlyphs" stroke="#3a3a3a" stroke-width="0.2">2F4</text>
<text x="495.00" y="169.12" font-size="7.0" text-anchor="middle" fill="#3a3a3a" font-weight="normal" textLength="14.56" lengthAdjust="spacingAndGlyphs" stroke="#3a3a3a" stroke-width="0.2">4B7+</text>
<text x="495.00" y="176.92" font-size="7.0" text-anchor="middle" fill="#3a3a3a" font-weight="normal" textLength="10.61" lengthAdjust="spacingAndGlyphs" stroke="#3a3a3a" stroke-width="0.2">2F4</text>
<line x1="417.00" y1="179.40" x2="513.00" y2="179.40" stroke="#2b2b2b" stroke-width="0.9"/>
<line x1="417.00" y1="177.40" x2="417.00" y2="181.40" stroke="#2b2b2b" stroke-width="0.9"/>
<line x1="513.00" y1="177.40" x2="513.00" y2="181.40" stroke="#2b2b2b" stroke-width="0.9"/>
<text x="464.50" y="187.92" font-size="7.0" text-anchor="middle" fill="#3a3a3a" font-weight="normal" textLength="54.00" lengthAdjust="spacingAndGlyphs" stroke="#3a3a3a" stroke-width="0.2">AMIS with anti-HEL</text>
<text transform="translate(345.64,133.00) rotate(-90)" font-size="7.9" text-anchor="middle" fill="#3a3a3a" font-weight="normal" textLength="47.00" lengthAdjust="spacingAndGlyphs" stroke="#3a3a3a" stroke-width="0.2">IgM(OD<tspan font-size="5.6" dy="1.5"> 405 nm</tspan><tspan dy="-1.5">)</tspan></text>
<text x="338.40" y="208.45" font-size="11.8" text-anchor="start" fill="#111" font-weight="bold">O</text>
<line x1="367.00" y1="217.40" x2="367.00" y2="265.00" stroke="#2b2b2b" stroke-width="1.3"/>
<line x1="364.00" y1="264.40" x2="367.00" y2="264.40" stroke="#2b2b2b" stroke-width="1.0"/>
<text x="361.60" y="266.70" font-size="6.4" text-anchor="end" fill="#3a3a3a" font-weight="normal" stroke="#3a3a3a" stroke-width="0.1">0.0</text>
<line x1="364.00" y1="249.40" x2="367.00" y2="249.40" stroke="#2b2b2b" stroke-width="1.0"/>
<text x="361.60" y="251.70" font-size="6.4" text-anchor="end" fill="#3a3a3a" font-weight="normal" stroke="#3a3a3a" stroke-width="0.1">0.5</text>
<line x1="364.00" y1="234.40" x2="367.00" y2="234.40" stroke="#2b2b2b" stroke-width="1.0"/>
<text x="361.60" y="236.70" font-size="6.4" text-anchor="end" fill="#3a3a3a" font-weight="normal" stroke="#3a3a3a" stroke-width="0.1">1.0</text>
<line x1="364.00" y1="219.40" x2="367.00" y2="219.40" stroke="#2b2b2b" stroke-width="1.0"/>
<text x="361.60" y="221.70" font-size="6.4" text-anchor="end" fill="#3a3a3a" font-weight="normal" stroke="#3a3a3a" stroke-width="0.1">1.5</text>
<line x1="366.40" y1="264.40" x2="513.50" y2="264.40" stroke="#2b2b2b" stroke-width="1.3"/>
<line x1="384.40" y1="264.40" x2="384.40" y2="266.40" stroke="#2b2b2b" stroke-width="1.0"/>
<line x1="406.90" y1="264.40" x2="406.90" y2="266.40" stroke="#2b2b2b" stroke-width="1.0"/>
<line x1="428.90" y1="264.40" x2="428.90" y2="266.40" stroke="#2b2b2b" stroke-width="1.0"/>
<line x1="450.80" y1="264.40" x2="450.80" y2="266.40" stroke="#2b2b2b" stroke-width="1.0"/>
<line x1="473.00" y1="264.40" x2="473.00" y2="266.40" stroke="#2b2b2b" stroke-width="1.0"/>
<line x1="495.20" y1="264.40" x2="495.20" y2="266.40" stroke="#2b2b2b" stroke-width="1.0"/>
<rect x="376.90" y="264.10" width="15.00" height="0.30" fill="#cf0b2b" stroke="#a3001c" stroke-width="0.5"/>
<line x1="384.40" y1="264.10" x2="384.40" y2="263.50" stroke="#1a1a1a" stroke-width="0.9"/>
<line x1="380.50" y1="263.50" x2="388.30" y2="263.50" stroke="#1a1a1a" stroke-width="0.9"/>
<text x="384.40" y="263.80" font-size="6.4" text-anchor="middle" fill="#333" font-weight="normal" letter-spacing="0.35">****</text>
<rect x="399.40" y="253.00" width="15.00" height="11.40" fill="#cf0b2b" stroke="#a3001c" stroke-width="0.5"/>
<line x1="406.90" y1="253.00" x2="406.90" y2="250.60" stroke="#1a1a1a" stroke-width="0.9"/>
<line x1="403.00" y1="250.60" x2="410.80" y2="250.60" stroke="#1a1a1a" stroke-width="0.9"/>
<rect x="421.40" y="262.60" width="15.00" height="1.80" fill="#cf0b2b" stroke="#a3001c" stroke-width="0.5"/>
<line x1="428.90" y1="262.60" x2="428.90" y2="261.70" stroke="#1a1a1a" stroke-width="0.9"/>
<line x1="425.00" y1="261.70" x2="432.80" y2="261.70" stroke="#1a1a1a" stroke-width="0.9"/>
<text x="428.90" y="262.00" font-size="6.4" text-anchor="middle" fill="#333" font-weight="normal" letter-spacing="0.35">***</text>
<rect x="443.30" y="258.10" width="15.00" height="6.30" fill="#cf0b2b" stroke="#a3001c" stroke-width="0.5"/>
<line x1="450.80" y1="258.10" x2="450.80" y2="256.00" stroke="#1a1a1a" stroke-width="0.9"/>
<line x1="446.90" y1="256.00" x2="454.70" y2="256.00" stroke="#1a1a1a" stroke-width="0.9"/>
<text x="450.80" y="256.30" font-size="6.4" text-anchor="middle" fill="#333" font-weight="normal" letter-spacing="0.35">*</text>
<rect x="465.50" y="262.60" width="15.00" height="1.80" fill="#cf0b2b" stroke="#a3001c" stroke-width="0.5"/>
<line x1="473.00" y1="262.60" x2="473.00" y2="261.70" stroke="#1a1a1a" stroke-width="0.9"/>
<line x1="469.10" y1="261.70" x2="476.90" y2="261.70" stroke="#1a1a1a" stroke-width="0.9"/>
<text x="473.00" y="262.00" font-size="6.4" text-anchor="middle" fill="#333" font-weight="normal" letter-spacing="0.35">***</text>
<rect x="487.70" y="260.20" width="15.00" height="4.20" fill="#cf0b2b" stroke="#a3001c" stroke-width="0.5"/>
<line x1="495.20" y1="260.20" x2="495.20" y2="259.00" stroke="#1a1a1a" stroke-width="0.9"/>
<line x1="491.30" y1="259.00" x2="499.10" y2="259.00" stroke="#1a1a1a" stroke-width="0.9"/>
<text x="495.20" y="259.30" font-size="6.4" text-anchor="middle" fill="#333" font-weight="normal" letter-spacing="0.35">**</text>
<text x="384.40" y="276.12" font-size="7.0" text-anchor="middle" fill="#3a3a3a" font-weight="normal" textLength="7.19" lengthAdjust="spacingAndGlyphs" stroke="#3a3a3a" stroke-width="0.2">Nil</text>
<text x="406.90" y="276.12" font-size="7.0" text-anchor="middle" fill="#3a3a3a" font-weight="normal" textLength="12.33" lengthAdjust="spacingAndGlyphs" stroke="#3a3a3a" stroke-width="0.2">PBS</text>
<text x="428.90" y="276.12" font-size="7.0" text-anchor="middle" fill="#3a3a3a" font-weight="normal" textLength="13.35" lengthAdjust="spacingAndGlyphs" stroke="#3a3a3a" stroke-width="0.2">pIgG</text>
<text x="450.80" y="276.12" font-size="7.0" text-anchor="middle" fill="#3a3a3a" font-weight="normal" textLength="10.96" lengthAdjust="spacingAndGlyphs" stroke="#3a3a3a" stroke-width="0.2">4B7</text>
<text x="473.00" y="276.12" font-size="7.0" text-anchor="middle" fill="#3a3a3a" font-weight="normal" textLength="10.61" lengthAdjust="spacingAndGlyphs" stroke="#3a3a3a" stroke-width="0.2">2F4</text>
<text x="495.00" y="276.12" font-size="7.0" text-anchor="middle" fill="#3a3a3a" font-weight="normal" textLength="14.56" lengthAdjust="spacingAndGlyphs" stroke="#3a3a3a" stroke-width="0.2">4B7+</text>
<text x="495.00" y="283.82" font-size="7.0" text-anchor="middle" fill="#3a3a3a" font-weight="normal" textLength="10.61" lengthAdjust="spacingAndGlyphs" stroke="#3a3a3a" stroke-width="0.2">2F4</text>
<line x1="417.00" y1="286.80" x2="513.00" y2="286.80" stroke="#2b2b2b" stroke-width="0.9"/>
<line x1="417.00" y1="284.80" x2="417.00" y2="288.80" stroke="#2b2b2b" stroke-width="0.9"/>
<line x1="513.00" y1="284.80" x2="513.00" y2="288.80" stroke="#2b2b2b" stroke-width="0.9"/>
<text x="464.50" y="294.92" font-size="7.0" text-anchor="middle" fill="#3a3a3a" font-weight="normal" textLength="55.00" lengthAdjust="spacingAndGlyphs" stroke="#3a3a3a" stroke-width="0.2">AMIS with Anti-HEL</text>
<text transform="translate(345.64,240.50) rotate(-90)" font-size="7.9" text-anchor="middle" fill="#3a3a3a" font-weight="normal" textLength="45.00" lengthAdjust="spacingAndGlyphs" stroke="#3a3a3a" stroke-width="0.2">IgG (OD<tspan font-size="5.6" dy="1.5"> 405 nm</tspan><tspan dy="-1.5">)</tspan></text>
<text x="7.00" y="327.75" font-size="11.8" text-anchor="start" fill="#111" font-weight="bold">D</text>
<line x1="60.20" y1="321.60" x2="65.40" y2="321.60" stroke="#a8122f" stroke-width="0.7"/>
<circle cx="62.80" cy="321.60" r="1.9" fill="#a8122f"/>
<text x="68.00" y="324.08" font-size="6.9" text-anchor="start" fill="#3a3a3a" font-weight="normal" textLength="12.10" lengthAdjust="spacingAndGlyphs" stroke="#3a3a3a" stroke-width="0.2">PBS</text>
<line x1="60.20" y1="328.40" x2="65.40" y2="328.40" stroke="#a8122f" stroke-width="0.7"/>
<rect x="60.90" y="326.50" width="3.8" height="3.8" fill="#a8122f"/>
<text x="68.00" y="330.88" font-size="6.9" text-anchor="start" fill="#3a3a3a" font-weight="normal" textLength="24.70" lengthAdjust="spacingAndGlyphs" stroke="#3a3a3a" stroke-width="0.2">MIMA29</text>
<line x1="100.00" y1="321.60" x2="105.20" y2="321.60" stroke="#d4385c" stroke-width="0.7"/>
<rect x="100.80" y="319.80" width="3.6" height="3.6" fill="#fff" stroke="#d4385c" stroke-width="0.8"/>
<text x="107.80" y="324.08" font-size="6.9" text-anchor="start" fill="#3a3a3a" font-weight="normal" textLength="25.90" lengthAdjust="spacingAndGlyphs" stroke="#3a3a3a" stroke-width="0.2">CBC-512</text>
<line x1="100.00" y1="328.40" x2="105.20" y2="328.40" stroke="#d4385c" stroke-width="0.7"/>
<rect x="100.70" y="326.50" width="3.8" height="3.8" fill="#d4385c"/><path d="M100.70,328.40h3.8M102.60,326.50v3.8" stroke="#f4b" stroke-width="0.4"/>
<text x="107.80" y="330.88" font-size="6.9" text-anchor="start" fill="#3a3a3a" font-weight="normal" textLength="33.20" lengthAdjust="spacingAndGlyphs" stroke="#3a3a3a" stroke-width="0.2">deCBC-512</text>
<line x1="55.50" y1="337.20" x2="55.50" y2="412.00" stroke="#2b2b2b" stroke-width="1.3"/>
<line x1="52.50" y1="411.40" x2="55.50" y2="411.40" stroke="#2b2b2b" stroke-width="1.0"/>
<text x="50.10" y="413.70" font-size="6.4" text-anchor="end" fill="#3a3a3a" font-weight="normal" stroke="#3a3a3a" stroke-width="0.1">0</text>
<line x1="52.50" y1="387.33" x2="55.50" y2="387.33" stroke="#2b2b2b" stroke-width="1.0"/>
<text x="50.10" y="389.64" font-size="6.4" text-anchor="end" fill="#3a3a3a" font-weight="normal" stroke="#3a3a3a" stroke-width="0.1">50</text>
<line x1="52.50" y1="363.27" x2="55.50" y2="363.27" stroke="#2b2b2b" stroke-width="1.0"/>
<text x="50.10" y="365.57" font-size="6.4" text-anchor="end" fill="#3a3a3a" font-weight="normal" stroke="#3a3a3a" stroke-width="0.1">100</text>
<line x1="52.50" y1="339.20" x2="55.50" y2="339.20" stroke="#2b2b2b" stroke-width="1.0"/>
<text x="50.10" y="341.51" font-size="6.4" text-anchor="end" fill="#3a3a3a" font-weight="normal" stroke="#3a3a3a" stroke-width="0.1">150</text>
<line x1="54.90" y1="411.40" x2="156.20" y2="411.40" stroke="#2b2b2b" stroke-width="1.3"/>
<line x1="66.00" y1="411.40" x2="66.00" y2="413.40" stroke="#2b2b2b" stroke-width="1.0"/>
<line x1="86.00" y1="411.40" x2="86.00" y2="413.40" stroke="#2b2b2b" stroke-width="1.0"/>
<line x1="105.90" y1="411.40" x2="105.90" y2="413.40" stroke="#2b2b2b" stroke-width="1.0"/>
<line x1="125.80" y1="411.40" x2="125.80" y2="413.40" stroke="#2b2b2b" stroke-width="1.0"/>
<line x1="145.80" y1="411.40" x2="145.80" y2="413.40" stroke="#2b2b2b" stroke-width="1.0"/>
<text x="66.00" y="423.23" font-size="6.2" text-anchor="middle" fill="#3a3a3a" font-weight="normal" stroke="#3a3a3a" stroke-width="0.2">−2</text>
<text x="86.00" y="423.23" font-size="6.2" text-anchor="middle" fill="#3a3a3a" font-weight="normal" stroke="#3a3a3a" stroke-width="0.2">2</text>
<text x="105.90" y="423.23" font-size="6.2" text-anchor="middle" fill="#3a3a3a" font-weight="normal" stroke="#3a3a3a" stroke-width="0.2">24</text>
<text x="125.80" y="423.23" font-size="6.2" text-anchor="middle" fill="#3a3a3a" font-weight="normal" stroke="#3a3a3a" stroke-width="0.2">48</text>
<text x="145.80" y="423.23" font-size="6.2" text-anchor="middle" fill="#3a3a3a" font-weight="normal" stroke="#3a3a3a" stroke-width="0.2">72</text>
<text x="105.90" y="434.42" font-size="8.4" text-anchor="middle" fill="#3a3a3a" font-weight="normal" textLength="77.00" lengthAdjust="spacingAndGlyphs" stroke="#3a3a3a" stroke-width="0.2">Time after Ab injection (h)</text>
<path d="M66.00,363.27 L86.00,392.15 L105.90,404.66 L125.80,407.79 L145.80,408.03" fill="none" stroke="#d4385c" stroke-width="0.9"/>
<rect x="64.20" y="361.47" width="3.6" height="3.6" fill="#fff" stroke="#d4385c" stroke-width="0.8"/>
<rect x="84.20" y="390.35" width="3.6" height="3.6" fill="#fff" stroke="#d4385c" stroke-width="0.8"/>
<rect x="104.10" y="402.86" width="3.6" height="3.6" fill="#fff" stroke="#d4385c" stroke-width="0.8"/>
<rect x="124.00" y="405.99" width="3.6" height="3.6" fill="#fff" stroke="#d4385c" stroke-width="0.8"/>
<rect x="144.00" y="406.23" width="3.6" height="3.6" fill="#fff" stroke="#d4385c" stroke-width="0.8"/>
<path d="M66.00,363.27 L86.00,365.68 L105.90,363.75 L125.80,367.12 L145.80,379.63" fill="none" stroke="#d4385c" stroke-width="0.9"/>
<line x1="105.90" y1="362.31" x2="105.90" y2="365.20" stroke="#d4385c" stroke-width="0.6"/>
<line x1="104.70" y1="362.31" x2="107.10" y2="362.31" stroke="#d4385c" stroke-width="0.6"/>
<line x1="104.70" y1="365.20" x2="107.10" y2="365.20" stroke="#d4385c" stroke-width="0.6"/>
<line x1="125.80" y1="366.16" x2="125.80" y2="368.08" stroke="#d4385c" stroke-width="0.6"/>
<line x1="124.60" y1="366.16" x2="127.00" y2="366.16" stroke="#d4385c" stroke-width="0.6"/>
<line x1="124.60" y1="368.08" x2="127.00" y2="368.08" stroke="#d4385c" stroke-width="0.6"/>
<rect x="64.10" y="361.37" width="3.8" height="3.8" fill="#d4385c"/><path d="M64.10,363.27h3.8M66.00,361.37v3.8" stroke="#f4b" stroke-width="0.4"/>
<rect x="84.10" y="363.78" width="3.8" height="3.8" fill="#d4385c"/><path d="M84.10,365.68h3.8M86.00,363.78v3.8" stroke="#f4b" stroke-width="0.4"/>
<rect x="104.00" y="361.85" width="3.8" height="3.8" fill="#d4385c"/><path d="M104.00,363.75h3.8M105.90,361.85v3.8" stroke="#f4b" stroke-width="0.4"/>
<rect x="123.90" y="365.22" width="3.8" height="3.8" fill="#d4385c"/><path d="M123.90,367.12h3.8M125.80,365.22v3.8" stroke="#f4b" stroke-width="0.4"/>
<rect x="143.90" y="377.73" width="3.8" height="3.8" fill="#d4385c"/><path d="M143.90,379.63h3.8M145.80,377.73v3.8" stroke="#f4b" stroke-width="0.4"/>
<path d="M66.00,363.27 L86.00,362.55 L105.90,363.27 L125.80,367.12 L145.80,371.45" fill="none" stroke="#c21d3e" stroke-width="0.9"/>
<line x1="86.00" y1="361.59" x2="86.00" y2="363.51" stroke="#a8122f" stroke-width="0.6"/>
<line x1="84.80" y1="361.59" x2="87.20" y2="361.59" stroke="#a8122f" stroke-width="0.6"/>
<line x1="84.80" y1="363.51" x2="87.20" y2="363.51" stroke="#a8122f" stroke-width="0.6"/>
<line x1="125.80" y1="366.16" x2="125.80" y2="368.08" stroke="#a8122f" stroke-width="0.6"/>
<line x1="124.60" y1="366.16" x2="127.00" y2="366.16" stroke="#a8122f" stroke-width="0.6"/>
<line x1="124.60" y1="368.08" x2="127.00" y2="368.08" stroke="#a8122f" stroke-width="0.6"/>
<line x1="145.80" y1="370.01" x2="145.80" y2="372.90" stroke="#a8122f" stroke-width="0.6"/>
<line x1="144.60" y1="370.01" x2="147.00" y2="370.01" stroke="#a8122f" stroke-width="0.6"/>
<line x1="144.60" y1="372.90" x2="147.00" y2="372.90" stroke="#a8122f" stroke-width="0.6"/>
<circle cx="66.00" cy="363.27" r="1.9" fill="#a8122f"/>
<circle cx="86.00" cy="362.55" r="1.9" fill="#a8122f"/>
<circle cx="105.90" cy="363.27" r="1.9" fill="#a8122f"/>
<circle cx="125.80" cy="367.12" r="1.9" fill="#a8122f"/>
<circle cx="145.80" cy="371.45" r="1.9" fill="#a8122f"/>
<path d="M66.00,363.27 L86.00,398.40 L105.90,402.01 L125.80,401.77 L145.80,402.26" fill="none" stroke="#c21d3e" stroke-width="0.9"/>
<rect x="64.10" y="361.37" width="3.8" height="3.8" fill="#a8122f"/>
<rect x="84.10" y="396.50" width="3.8" height="3.8" fill="#a8122f"/>
<rect x="104.00" y="400.11" width="3.8" height="3.8" fill="#a8122f"/>
<rect x="123.90" y="399.87" width="3.8" height="3.8" fill="#a8122f"/>
<rect x="143.90" y="400.36" width="3.8" height="3.8" fill="#a8122f"/>
<text transform="translate(23.50,374.00) rotate(-90)" font-size="7.5" text-anchor="middle" fill="#3a3a3a" font-weight="normal" textLength="54.20" lengthAdjust="spacingAndGlyphs" stroke="#3a3a3a" stroke-width="0.2">PKH26<tspan font-size="4.5" dy="-2.2">+</tspan><tspan dy="2.2"> HOD-RBC</tspan></text>
<text transform="translate(34.30,374.00) rotate(-90)" font-size="7.5" text-anchor="middle" fill="#3a3a3a" font-weight="normal" textLength="49.20" lengthAdjust="spacingAndGlyphs" stroke="#3a3a3a" stroke-width="0.2">in circulation (%)</text>
<text x="176.30" y="327.75" font-size="11.8" text-anchor="start" fill="#111" font-weight="bold">J</text>
<line x1="201.90" y1="322.80" x2="207.10" y2="322.80" stroke="#a8122f" stroke-width="0.7"/>
<circle cx="204.50" cy="322.80" r="1.9" fill="#a8122f"/>
<text x="209.70" y="325.28" font-size="6.9" text-anchor="start" fill="#3a3a3a" font-weight="normal" textLength="12.10" lengthAdjust="spacingAndGlyphs" stroke="#3a3a3a" stroke-width="0.2">PBS</text>
<line x1="201.90" y1="330.20" x2="207.10" y2="330.20" stroke="#a8122f" stroke-width="0.7"/>
<rect x="202.60" y="328.30" width="3.8" height="3.8" fill="#a8122f"/>
<text x="209.70" y="332.68" font-size="6.9" text-anchor="start" fill="#3a3a3a" font-weight="normal" textLength="39.00" lengthAdjust="spacingAndGlyphs" stroke="#3a3a3a" stroke-width="0.2">MIMA29 5 µg</text>
<line x1="257.70" y1="322.80" x2="262.90" y2="322.80" stroke="#d4385c" stroke-width="0.7"/>
<path d="M260.30,320.60 L262.40,324.30 L258.20,324.30 Z" fill="#fff" stroke="#d4385c" stroke-width="0.8"/>
<text x="265.50" y="325.28" font-size="6.9" text-anchor="start" fill="#3a3a3a" font-weight="normal" textLength="61.40" lengthAdjust="spacingAndGlyphs" stroke="#3a3a3a" stroke-width="0.2">pIgG anti-OVA 25 µg</text>
<line x1="257.70" y1="330.20" x2="262.90" y2="330.20" stroke="#d4385c" stroke-width="0.7"/>
<circle cx="260.30" cy="330.20" r="1.9" fill="#fff" stroke="#d4385c" stroke-width="0.8"/>
<text x="265.50" y="332.68" font-size="6.9" text-anchor="start" fill="#3a3a3a" font-weight="normal" textLength="61.40" lengthAdjust="spacingAndGlyphs" stroke="#3a3a3a" stroke-width="0.2">pIgG anti-OVA 50 µg</text>
<line x1="214.60" y1="338.00" x2="214.60" y2="412.60" stroke="#2b2b2b" stroke-width="1.3"/>
<line x1="211.60" y1="412.00" x2="214.60" y2="412.00" stroke="#2b2b2b" stroke-width="1.0"/>
<text x="209.20" y="414.30" font-size="6.4" text-anchor="end" fill="#3a3a3a" font-weight="normal" stroke="#3a3a3a" stroke-width="0.1">0</text>
<line x1="211.60" y1="388.00" x2="214.60" y2="388.00" stroke="#2b2b2b" stroke-width="1.0"/>
<text x="209.20" y="390.30" font-size="6.4" text-anchor="end" fill="#3a3a3a" font-weight="normal" stroke="#3a3a3a" stroke-width="0.1">50</text>
<line x1="211.60" y1="364.00" x2="214.60" y2="364.00" stroke="#2b2b2b" stroke-width="1.0"/>
<text x="209.20" y="366.30" font-size="6.4" text-anchor="end" fill="#3a3a3a" font-weight="normal" stroke="#3a3a3a" stroke-width="0.1">100</text>
<line x1="211.60" y1="340.00" x2="214.60" y2="340.00" stroke="#2b2b2b" stroke-width="1.0"/>
<text x="209.20" y="342.30" font-size="6.4" text-anchor="end" fill="#3a3a3a" font-weight="normal" stroke="#3a3a3a" stroke-width="0.1">150</text>
<line x1="214.00" y1="412.00" x2="311.90" y2="412.00" stroke="#2b2b2b" stroke-width="1.3"/>
<line x1="225.00" y1="412.00" x2="225.00" y2="414.00" stroke="#2b2b2b" stroke-width="1.0"/>
<line x1="244.30" y1="412.00" x2="244.30" y2="414.00" stroke="#2b2b2b" stroke-width="1.0"/>
<line x1="263.90" y1="412.00" x2="263.90" y2="414.00" stroke="#2b2b2b" stroke-width="1.0"/>
<line x1="283.20" y1="412.00" x2="283.20" y2="414.00" stroke="#2b2b2b" stroke-width="1.0"/>
<line x1="302.10" y1="412.00" x2="302.10" y2="414.00" stroke="#2b2b2b" stroke-width="1.0"/>
<text x="225.00" y="423.83" font-size="6.2" text-anchor="middle" fill="#3a3a3a" font-weight="normal" stroke="#3a3a3a" stroke-width="0.2">−2</text>
<text x="244.30" y="423.83" font-size="6.2" text-anchor="middle" fill="#3a3a3a" font-weight="normal" stroke="#3a3a3a" stroke-width="0.2">2</text>
<text x="263.90" y="423.83" font-size="6.2" text-anchor="middle" fill="#3a3a3a" font-weight="normal" stroke="#3a3a3a" stroke-width="0.2">24</text>
<text x="283.20" y="423.83" font-size="6.2" text-anchor="middle" fill="#3a3a3a" font-weight="normal" stroke="#3a3a3a" stroke-width="0.2">48</text>
<text x="302.10" y="423.83" font-size="6.2" text-anchor="middle" fill="#3a3a3a" font-weight="normal" stroke="#3a3a3a" stroke-width="0.2">72</text>
<text x="263.55" y="435.02" font-size="8.4" text-anchor="middle" fill="#3a3a3a" font-weight="normal" textLength="77.00" lengthAdjust="spacingAndGlyphs" stroke="#3a3a3a" stroke-width="0.2">Time after Ab injection (h)</text>
<path d="M225.00,364.00 L244.30,359.20 L263.90,365.44 L283.20,366.40 L302.10,364.96" fill="none" stroke="#d4385c" stroke-width="0.9" stroke-dasharray="1.2,0.9"/>
<line x1="302.10" y1="362.08" x2="302.10" y2="367.84" stroke="#d4385c" stroke-width="0.6"/>
<line x1="300.90" y1="362.08" x2="303.30" y2="362.08" stroke="#d4385c" stroke-width="0.6"/>
<line x1="300.90" y1="367.84" x2="303.30" y2="367.84" stroke="#d4385c" stroke-width="0.6"/>
<path d="M225.00,361.80 L227.10,365.50 L222.90,365.50 Z" fill="#fff" stroke="#d4385c" stroke-width="0.8"/>
<path d="M244.30,357.00 L246.40,360.70 L242.20,360.70 Z" fill="#fff" stroke="#d4385c" stroke-width="0.8"/>
<path d="M263.90,363.24 L266.00,366.94 L261.80,366.94 Z" fill="#fff" stroke="#d4385c" stroke-width="0.8"/>
<path d="M283.20,364.20 L285.30,367.90 L281.10,367.90 Z" fill="#fff" stroke="#d4385c" stroke-width="0.8"/>
<path d="M302.10,362.76 L304.20,366.46 L300.00,366.46 Z" fill="#fff" stroke="#d4385c" stroke-width="0.8"/>
<path d="M225.00,364.00 L244.30,365.92 L263.90,365.92 L283.20,366.88 L302.10,368.32" fill="none" stroke="#d4385c" stroke-width="0.9" stroke-dasharray="1.2,0.9"/>
<line x1="302.10" y1="366.40" x2="302.10" y2="370.24" stroke="#d4385c" stroke-width="0.6"/>
<line x1="300.90" y1="366.40" x2="303.30" y2="366.40" stroke="#d4385c" stroke-width="0.6"/>
<line x1="300.90" y1="370.24" x2="303.30" y2="370.24" stroke="#d4385c" stroke-width="0.6"/>
<circle cx="225.00" cy="364.00" r="1.9" fill="#fff" stroke="#d4385c" stroke-width="0.8"/>
<circle cx="244.30" cy="365.92" r="1.9" fill="#fff" stroke="#d4385c" stroke-width="0.8"/>
<circle cx="263.90" cy="365.92" r="1.9" fill="#fff" stroke="#d4385c" stroke-width="0.8"/>
<circle cx="283.20" cy="366.88" r="1.9" fill="#fff" stroke="#d4385c" stroke-width="0.8"/>
<circle cx="302.10" cy="368.32" r="1.9" fill="#fff" stroke="#d4385c" stroke-width="0.8"/>
<path d="M225.00,364.00 L244.30,365.44 L263.90,364.96 L283.20,367.36 L302.10,373.60" fill="none" stroke="#c21d3e" stroke-width="0.9"/>
<line x1="302.10" y1="372.16" x2="302.10" y2="375.04" stroke="#a8122f" stroke-width="0.6"/>
<line x1="300.90" y1="372.16" x2="303.30" y2="372.16" stroke="#a8122f" stroke-width="0.6"/>
<line x1="300.90" y1="375.04" x2="303.30" y2="375.04" stroke="#a8122f" stroke-width="0.6"/>
<circle cx="225.00" cy="364.00" r="1.9" fill="#a8122f"/>
<circle cx="244.30" cy="365.44" r="1.9" fill="#a8122f"/>
<circle cx="263.90" cy="364.96" r="1.9" fill="#a8122f"/>
<circle cx="283.20" cy="367.36" r="1.9" fill="#a8122f"/>
<circle cx="302.10" cy="373.60" r="1.9" fill="#a8122f"/>
<path d="M225.00,364.00 L244.30,399.52 L263.90,402.40 L283.20,403.12 L302.10,404.80" fill="none" stroke="#c21d3e" stroke-width="0.9"/>
<rect x="223.10" y="362.10" width="3.8" height="3.8" fill="#a8122f"/>
<rect x="242.40" y="397.62" width="3.8" height="3.8" fill="#a8122f"/>
<rect x="262.00" y="400.50" width="3.8" height="3.8" fill="#a8122f"/>
<rect x="281.30" y="401.22" width="3.8" height="3.8" fill="#a8122f"/>
<rect x="300.20" y="402.90" width="3.8" height="3.8" fill="#a8122f"/>
<text transform="translate(183.20,375.00) rotate(-90)" font-size="7.5" text-anchor="middle" fill="#3a3a3a" font-weight="normal" textLength="54.20" lengthAdjust="spacingAndGlyphs" stroke="#3a3a3a" stroke-width="0.2">PKH26<tspan font-size="4.5" dy="-2.2">+</tspan><tspan dy="2.2"> HOD-RBC</tspan></text>
<text transform="translate(194.30,375.00) rotate(-90)" font-size="7.5" text-anchor="middle" fill="#3a3a3a" font-weight="normal" textLength="49.20" lengthAdjust="spacingAndGlyphs" stroke="#3a3a3a" stroke-width="0.2">in circulation (%)</text>
<text x="338.00" y="327.55" font-size="11.8" text-anchor="start" fill="#111" font-weight="bold">P</text>
<line x1="377.00" y1="321.20" x2="382.20" y2="321.20" stroke="#a8122f" stroke-width="0.7"/>
<circle cx="379.60" cy="321.20" r="1.9" fill="#a8122f"/>
<text x="384.80" y="323.68" font-size="6.9" text-anchor="start" fill="#3a3a3a" font-weight="normal" textLength="11.50" lengthAdjust="spacingAndGlyphs" stroke="#3a3a3a" stroke-width="0.2">PBS</text>
<line x1="377.00" y1="329.60" x2="382.20" y2="329.60" stroke="#a8122f" stroke-width="0.7"/>
<rect x="377.70" y="327.70" width="3.8" height="3.8" fill="#a8122f"/>
<text x="384.80" y="332.08" font-size="6.9" text-anchor="start" fill="#3a3a3a" font-weight="normal" textLength="25.00" lengthAdjust="spacingAndGlyphs" stroke="#3a3a3a" stroke-width="0.2">MIMA29</text>
<line x1="412.60" y1="321.20" x2="417.80" y2="321.20" stroke="#d4385c" stroke-width="0.7"/>
<path d="M415.20,319.00 L417.20,321.20 L415.20,323.40 L413.20,321.20 Z" fill="#fff" stroke="#d4385c" stroke-width="0.8"/>
<text x="420.40" y="323.68" font-size="6.9" text-anchor="start" fill="#3a3a3a" font-weight="normal" textLength="11.00" lengthAdjust="spacingAndGlyphs" stroke="#3a3a3a" stroke-width="0.2">4B7</text>
<line x1="412.60" y1="329.60" x2="417.80" y2="329.60" stroke="#d4385c" stroke-width="0.7"/>
<rect x="413.40" y="327.80" width="3.6" height="3.6" fill="#fff" stroke="#d4385c" stroke-width="0.8"/>
<text x="420.40" y="332.08" font-size="6.9" text-anchor="start" fill="#3a3a3a" font-weight="normal" textLength="10.60" lengthAdjust="spacingAndGlyphs" stroke="#3a3a3a" stroke-width="0.2">2F4</text>
<line x1="436.60" y1="321.20" x2="441.80" y2="321.20" stroke="#d4385c" stroke-width="0.7"/>
<path d="M439.20,319.00 L441.30,322.70 L437.10,322.70 Z" fill="#fff" stroke="#d4385c" stroke-width="0.8"/>
<text x="444.40" y="323.68" font-size="6.9" text-anchor="start" fill="#3a3a3a" font-weight="normal" textLength="23.20" lengthAdjust="spacingAndGlyphs" stroke="#3a3a3a" stroke-width="0.2">4B7+2F4</text>
<line x1="436.60" y1="329.60" x2="441.80" y2="329.60" stroke="#d4385c" stroke-width="0.7"/>
<path d="M439.20,327.40 L441.20,329.60 L439.20,331.80 L437.20,329.60 Z" fill="#fff" stroke="#d4385c" stroke-width="0.8"/>
<text x="444.40" y="332.08" font-size="6.9" text-anchor="start" fill="#3a3a3a" font-weight="normal" textLength="14.50" lengthAdjust="spacingAndGlyphs" stroke="#3a3a3a" stroke-width="0.2">pIgG</text>
<line x1="374.60" y1="338.40" x2="374.60" y2="413.00" stroke="#2b2b2b" stroke-width="1.3"/>
<line x1="371.60" y1="412.40" x2="374.60" y2="412.40" stroke="#2b2b2b" stroke-width="1.0"/>
<text x="369.20" y="414.70" font-size="6.4" text-anchor="end" fill="#3a3a3a" font-weight="normal" stroke="#3a3a3a" stroke-width="0.1">0</text>
<line x1="371.60" y1="388.40" x2="374.60" y2="388.40" stroke="#2b2b2b" stroke-width="1.0"/>
<text x="369.20" y="390.70" font-size="6.4" text-anchor="end" fill="#3a3a3a" font-weight="normal" stroke="#3a3a3a" stroke-width="0.1">50</text>
<line x1="371.60" y1="364.40" x2="374.60" y2="364.40" stroke="#2b2b2b" stroke-width="1.0"/>
<text x="369.20" y="366.70" font-size="6.4" text-anchor="end" fill="#3a3a3a" font-weight="normal" stroke="#3a3a3a" stroke-width="0.1">100</text>
<line x1="371.60" y1="340.40" x2="374.60" y2="340.40" stroke="#2b2b2b" stroke-width="1.0"/>
<text x="369.20" y="342.70" font-size="6.4" text-anchor="end" fill="#3a3a3a" font-weight="normal" stroke="#3a3a3a" stroke-width="0.1">150</text>
<line x1="374.00" y1="412.40" x2="471.90" y2="412.40" stroke="#2b2b2b" stroke-width="1.3"/>
<line x1="384.30" y1="412.40" x2="384.30" y2="414.40" stroke="#2b2b2b" stroke-width="1.0"/>
<line x1="404.00" y1="412.40" x2="404.00" y2="414.40" stroke="#2b2b2b" stroke-width="1.0"/>
<line x1="423.00" y1="412.40" x2="423.00" y2="414.40" stroke="#2b2b2b" stroke-width="1.0"/>
<line x1="442.80" y1="412.40" x2="442.80" y2="414.40" stroke="#2b2b2b" stroke-width="1.0"/>
<line x1="461.80" y1="412.40" x2="461.80" y2="414.40" stroke="#2b2b2b" stroke-width="1.0"/>
<text x="384.30" y="424.23" font-size="6.2" text-anchor="middle" fill="#3a3a3a" font-weight="normal" stroke="#3a3a3a" stroke-width="0.2">0</text>
<text x="404.00" y="424.23" font-size="6.2" text-anchor="middle" fill="#3a3a3a" font-weight="normal" stroke="#3a3a3a" stroke-width="0.2">2</text>
<text x="423.00" y="424.23" font-size="6.2" text-anchor="middle" fill="#3a3a3a" font-weight="normal" stroke="#3a3a3a" stroke-width="0.2">24</text>
<text x="442.80" y="424.23" font-size="6.2" text-anchor="middle" fill="#3a3a3a" font-weight="normal" stroke="#3a3a3a" stroke-width="0.2">48</text>
<text x="461.80" y="424.23" font-size="6.2" text-anchor="middle" fill="#3a3a3a" font-weight="normal" stroke="#3a3a3a" stroke-width="0.2">72</text>
<text x="423.05" y="435.42" font-size="8.4" text-anchor="middle" fill="#3a3a3a" font-weight="normal" textLength="77.00" lengthAdjust="spacingAndGlyphs" stroke="#3a3a3a" stroke-width="0.2">Time after Ab injection (h)</text>
<path d="M384.30,364.40 L404.00,365.84 L423.00,369.20 L442.80,370.64 L461.80,370.64" fill="none" stroke="#d4385c" stroke-width="0.9" stroke-dasharray="1.2,0.9"/>
<line x1="404.00" y1="364.40" x2="404.00" y2="367.28" stroke="#d4385c" stroke-width="0.6"/>
<line x1="402.80" y1="364.40" x2="405.20" y2="364.40" stroke="#d4385c" stroke-width="0.6"/>
<line x1="402.80" y1="367.28" x2="405.20" y2="367.28" stroke="#d4385c" stroke-width="0.6"/>
<line x1="423.00" y1="367.28" x2="423.00" y2="371.12" stroke="#d4385c" stroke-width="0.6"/>
<line x1="421.80" y1="367.28" x2="424.20" y2="367.28" stroke="#d4385c" stroke-width="0.6"/>
<line x1="421.80" y1="371.12" x2="424.20" y2="371.12" stroke="#d4385c" stroke-width="0.6"/>
<line x1="442.80" y1="369.20" x2="442.80" y2="372.08" stroke="#d4385c" stroke-width="0.6"/>
<line x1="441.60" y1="369.20" x2="444.00" y2="369.20" stroke="#d4385c" stroke-width="0.6"/>
<line x1="441.60" y1="372.08" x2="444.00" y2="372.08" stroke="#d4385c" stroke-width="0.6"/>
<line x1="461.80" y1="369.20" x2="461.80" y2="372.08" stroke="#d4385c" stroke-width="0.6"/>
<line x1="460.60" y1="369.20" x2="463.00" y2="369.20" stroke="#d4385c" stroke-width="0.6"/>
<line x1="460.60" y1="372.08" x2="463.00" y2="372.08" stroke="#d4385c" stroke-width="0.6"/>
<path d="M384.30,362.20 L386.30,364.40 L384.30,366.60 L382.30,364.40 Z" fill="#fff" stroke="#d4385c" stroke-width="0.8"/>
<path d="M404.00,363.64 L406.00,365.84 L404.00,368.04 L402.00,365.84 Z" fill="#fff" stroke="#d4385c" stroke-width="0.8"/>
<path d="M423.00,367.00 L425.00,369.20 L423.00,371.40 L421.00,369.20 Z" fill="#fff" stroke="#d4385c" stroke-width="0.8"/>
<path d="M442.80,368.44 L444.80,370.64 L442.80,372.84 L440.80,370.64 Z" fill="#fff" stroke="#d4385c" stroke-width="0.8"/>
<path d="M461.80,368.44 L463.80,370.64 L461.80,372.84 L459.80,370.64 Z" fill="#fff" stroke="#d4385c" stroke-width="0.8"/>
<path d="M384.30,364.40 L404.00,368.24 L423.00,370.64 L442.80,371.60 L461.80,372.56" fill="none" stroke="#d4385c" stroke-width="0.9" stroke-dasharray="1.2,0.9"/>
<line x1="404.00" y1="366.80" x2="404.00" y2="369.68" stroke="#d4385c" stroke-width="0.6"/>
<line x1="402.80" y1="366.80" x2="405.20" y2="366.80" stroke="#d4385c" stroke-width="0.6"/>
<line x1="402.80" y1="369.68" x2="405.20" y2="369.68" stroke="#d4385c" stroke-width="0.6"/>
<line x1="423.00" y1="369.20" x2="423.00" y2="372.08" stroke="#d4385c" stroke-width="0.6"/>
<line x1="421.80" y1="369.20" x2="424.20" y2="369.20" stroke="#d4385c" stroke-width="0.6"/>
<line x1="421.80" y1="372.08" x2="424.20" y2="372.08" stroke="#d4385c" stroke-width="0.6"/>
<line x1="442.80" y1="370.16" x2="442.80" y2="373.04" stroke="#d4385c" stroke-width="0.6"/>
<line x1="441.60" y1="370.16" x2="444.00" y2="370.16" stroke="#d4385c" stroke-width="0.6"/>
<line x1="441.60" y1="373.04" x2="444.00" y2="373.04" stroke="#d4385c" stroke-width="0.6"/>
<line x1="461.80" y1="371.12" x2="461.80" y2="374.00" stroke="#d4385c" stroke-width="0.6"/>
<line x1="460.60" y1="371.12" x2="463.00" y2="371.12" stroke="#d4385c" stroke-width="0.6"/>
<line x1="460.60" y1="374.00" x2="463.00" y2="374.00" stroke="#d4385c" stroke-width="0.6"/>
<path d="M384.30,362.20 L386.40,365.90 L382.20,365.90 Z" fill="#fff" stroke="#d4385c" stroke-width="0.8"/>
<path d="M404.00,366.04 L406.10,369.74 L401.90,369.74 Z" fill="#fff" stroke="#d4385c" stroke-width="0.8"/>
<path d="M423.00,368.44 L425.10,372.14 L420.90,372.14 Z" fill="#fff" stroke="#d4385c" stroke-width="0.8"/>
<path d="M442.80,369.40 L444.90,373.10 L440.70,373.10 Z" fill="#fff" stroke="#d4385c" stroke-width="0.8"/>
<path d="M461.80,370.36 L463.90,374.06 L459.70,374.06 Z" fill="#fff" stroke="#d4385c" stroke-width="0.8"/>
<path d="M384.30,364.40 L404.00,362.48 L423.00,357.20 L442.80,361.52 L461.80,366.80" fill="none" stroke="#d4385c" stroke-width="0.9"/>
<line x1="404.00" y1="360.56" x2="404.00" y2="364.40" stroke="#d4385c" stroke-width="0.6"/>
<line x1="402.80" y1="360.56" x2="405.20" y2="360.56" stroke="#d4385c" stroke-width="0.6"/>
<line x1="402.80" y1="364.40" x2="405.20" y2="364.40" stroke="#d4385c" stroke-width="0.6"/>
<line x1="423.00" y1="355.28" x2="423.00" y2="359.12" stroke="#d4385c" stroke-width="0.6"/>
<line x1="421.80" y1="355.28" x2="424.20" y2="355.28" stroke="#d4385c" stroke-width="0.6"/>
<line x1="421.80" y1="359.12" x2="424.20" y2="359.12" stroke="#d4385c" stroke-width="0.6"/>
<line x1="442.80" y1="359.60" x2="442.80" y2="363.44" stroke="#d4385c" stroke-width="0.6"/>
<line x1="441.60" y1="359.60" x2="444.00" y2="359.60" stroke="#d4385c" stroke-width="0.6"/>
<line x1="441.60" y1="363.44" x2="444.00" y2="363.44" stroke="#d4385c" stroke-width="0.6"/>
<line x1="461.80" y1="364.88" x2="461.80" y2="368.72" stroke="#d4385c" stroke-width="0.6"/>
<line x1="460.60" y1="364.88" x2="463.00" y2="364.88" stroke="#d4385c" stroke-width="0.6"/>
<line x1="460.60" y1="368.72" x2="463.00" y2="368.72" stroke="#d4385c" stroke-width="0.6"/>
<circle cx="384.30" cy="364.40" r="1.9" fill="#fff" stroke="#d4385c" stroke-width="0.8"/>
<circle cx="404.00" cy="362.48" r="1.9" fill="#fff" stroke="#d4385c" stroke-width="0.8"/>
<circle cx="423.00" cy="357.20" r="1.9" fill="#fff" stroke="#d4385c" stroke-width="0.8"/>
<circle cx="442.80" cy="361.52" r="1.9" fill="#fff" stroke="#d4385c" stroke-width="0.8"/>
<circle cx="461.80" cy="366.80" r="1.9" fill="#fff" stroke="#d4385c" stroke-width="0.8"/>
<path d="M384.30,364.40 L404.00,364.40 L423.00,364.40 L442.80,367.76 L461.80,372.08" fill="none" stroke="#d4385c" stroke-width="0.9"/>
<line x1="404.00" y1="362.96" x2="404.00" y2="365.84" stroke="#d4385c" stroke-width="0.6"/>
<line x1="402.80" y1="362.96" x2="405.20" y2="362.96" stroke="#d4385c" stroke-width="0.6"/>
<line x1="402.80" y1="365.84" x2="405.20" y2="365.84" stroke="#d4385c" stroke-width="0.6"/>
<line x1="423.00" y1="362.96" x2="423.00" y2="365.84" stroke="#d4385c" stroke-width="0.6"/>
<line x1="421.80" y1="362.96" x2="424.20" y2="362.96" stroke="#d4385c" stroke-width="0.6"/>
<line x1="421.80" y1="365.84" x2="424.20" y2="365.84" stroke="#d4385c" stroke-width="0.6"/>
<line x1="442.80" y1="366.32" x2="442.80" y2="369.20" stroke="#d4385c" stroke-width="0.6"/>
<line x1="441.60" y1="366.32" x2="444.00" y2="366.32" stroke="#d4385c" stroke-width="0.6"/>
<line x1="441.60" y1="369.20" x2="444.00" y2="369.20" stroke="#d4385c" stroke-width="0.6"/>
<line x1="461.80" y1="370.64" x2="461.80" y2="373.52" stroke="#d4385c" stroke-width="0.6"/>
<line x1="460.60" y1="370.64" x2="463.00" y2="370.64" stroke="#d4385c" stroke-width="0.6"/>
<line x1="460.60" y1="373.52" x2="463.00" y2="373.52" stroke="#d4385c" stroke-width="0.6"/>
<rect x="382.50" y="362.60" width="3.6" height="3.6" fill="#fff" stroke="#d4385c" stroke-width="0.8"/>
<rect x="402.20" y="362.60" width="3.6" height="3.6" fill="#fff" stroke="#d4385c" stroke-width="0.8"/>
<rect x="421.20" y="362.60" width="3.6" height="3.6" fill="#fff" stroke="#d4385c" stroke-width="0.8"/>
<rect x="441.00" y="365.96" width="3.6" height="3.6" fill="#fff" stroke="#d4385c" stroke-width="0.8"/>
<rect x="460.00" y="370.28" width="3.6" height="3.6" fill="#fff" stroke="#d4385c" stroke-width="0.8"/>
<path d="M384.30,364.40 L404.00,363.92 L423.00,363.92 L442.80,366.80 L461.80,370.16" fill="none" stroke="#c21d3e" stroke-width="0.9"/>
<line x1="404.00" y1="362.48" x2="404.00" y2="365.36" stroke="#a8122f" stroke-width="0.6"/>
<line x1="402.80" y1="362.48" x2="405.20" y2="362.48" stroke="#a8122f" stroke-width="0.6"/>
<line x1="402.80" y1="365.36" x2="405.20" y2="365.36" stroke="#a8122f" stroke-width="0.6"/>
<line x1="423.00" y1="362.48" x2="423.00" y2="365.36" stroke="#a8122f" stroke-width="0.6"/>
<line x1="421.80" y1="362.48" x2="424.20" y2="362.48" stroke="#a8122f" stroke-width="0.6"/>
<line x1="421.80" y1="365.36" x2="424.20" y2="365.36" stroke="#a8122f" stroke-width="0.6"/>
<line x1="442.80" y1="365.36" x2="442.80" y2="368.24" stroke="#a8122f" stroke-width="0.6"/>
<line x1="441.60" y1="365.36" x2="444.00" y2="365.36" stroke="#a8122f" stroke-width="0.6"/>
<line x1="441.60" y1="368.24" x2="444.00" y2="368.24" stroke="#a8122f" stroke-width="0.6"/>
<line x1="461.80" y1="368.72" x2="461.80" y2="371.60" stroke="#a8122f" stroke-width="0.6"/>
<line x1="460.60" y1="368.72" x2="463.00" y2="368.72" stroke="#a8122f" stroke-width="0.6"/>
<line x1="460.60" y1="371.60" x2="463.00" y2="371.60" stroke="#a8122f" stroke-width="0.6"/>
<circle cx="384.30" cy="364.40" r="1.9" fill="#a8122f"/>
<circle cx="404.00" cy="363.92" r="1.9" fill="#a8122f"/>
<circle cx="423.00" cy="363.92" r="1.9" fill="#a8122f"/>
<circle cx="442.80" cy="366.80" r="1.9" fill="#a8122f"/>
<circle cx="461.80" cy="370.16" r="1.9" fill="#a8122f"/>
<path d="M384.30,364.40 L404.00,399.20 L423.00,402.32 L442.80,402.32 L461.80,403.04" fill="none" stroke="#c21d3e" stroke-width="0.9"/>
<rect x="382.40" y="362.50" width="3.8" height="3.8" fill="#a8122f"/>
<rect x="402.10" y="397.30" width="3.8" height="3.8" fill="#a8122f"/>
<rect x="421.10" y="400.42" width="3.8" height="3.8" fill="#a8122f"/>
<rect x="440.90" y="400.42" width="3.8" height="3.8" fill="#a8122f"/>
<rect x="459.90" y="401.14" width="3.8" height="3.8" fill="#a8122f"/>
<text transform="translate(342.70,375.50) rotate(-90)" font-size="7.5" text-anchor="middle" fill="#3a3a3a" font-weight="normal" textLength="53.00" lengthAdjust="spacingAndGlyphs" stroke="#3a3a3a" stroke-width="0.2">HOD-RBC PKH26<tspan font-size="4.5" dy="-2.2">+</tspan></text>
<text transform="translate(353.40,375.50) rotate(-90)" font-size="7.5" text-anchor="middle" fill="#3a3a3a" font-weight="normal" textLength="49.80" lengthAdjust="spacingAndGlyphs" stroke="#3a3a3a" stroke-width="0.2">in circulation (%)</text>
<text x="6.80" y="465.95" font-size="11.8" text-anchor="start" fill="#111" font-weight="bold">E</text>
<line x1="55.70" y1="480.65" x2="55.70" y2="535.60" stroke="#2b2b2b" stroke-width="1.3"/>
<line x1="52.70" y1="535.00" x2="55.70" y2="535.00" stroke="#2b2b2b" stroke-width="1.0"/>
<text x="50.30" y="537.30" font-size="6.4" text-anchor="end" fill="#3a3a3a" font-weight="normal" stroke="#3a3a3a" stroke-width="0.1">0</text>
<line x1="52.70" y1="526.27" x2="55.70" y2="526.27" stroke="#2b2b2b" stroke-width="1.0"/>
<text x="50.30" y="528.58" font-size="6.4" text-anchor="end" fill="#3a3a3a" font-weight="normal" stroke="#3a3a3a" stroke-width="0.1">25</text>
<line x1="52.70" y1="517.55" x2="55.70" y2="517.55" stroke="#2b2b2b" stroke-width="1.0"/>
<text x="50.30" y="519.85" font-size="6.4" text-anchor="end" fill="#3a3a3a" font-weight="normal" stroke="#3a3a3a" stroke-width="0.1">50</text>
<line x1="52.70" y1="508.82" x2="55.70" y2="508.82" stroke="#2b2b2b" stroke-width="1.0"/>
<text x="50.30" y="511.13" font-size="6.4" text-anchor="end" fill="#3a3a3a" font-weight="normal" stroke="#3a3a3a" stroke-width="0.1">75</text>
<line x1="52.70" y1="500.10" x2="55.70" y2="500.10" stroke="#2b2b2b" stroke-width="1.0"/>
<text x="50.30" y="502.40" font-size="6.4" text-anchor="end" fill="#3a3a3a" font-weight="normal" stroke="#3a3a3a" stroke-width="0.1">100</text>
<line x1="52.70" y1="491.38" x2="55.70" y2="491.38" stroke="#2b2b2b" stroke-width="1.0"/>
<text x="50.30" y="493.68" font-size="6.4" text-anchor="end" fill="#3a3a3a" font-weight="normal" stroke="#3a3a3a" stroke-width="0.1">125</text>
<line x1="52.70" y1="482.65" x2="55.70" y2="482.65" stroke="#2b2b2b" stroke-width="1.0"/>
<text x="50.30" y="484.95" font-size="6.4" text-anchor="end" fill="#3a3a3a" font-weight="normal" stroke="#3a3a3a" stroke-width="0.1">150</text>
<line x1="55.10" y1="535.00" x2="159.90" y2="535.00" stroke="#2b2b2b" stroke-width="1.3"/>
<line x1="71.90" y1="535.00" x2="71.90" y2="537.00" stroke="#2b2b2b" stroke-width="1.0"/>
<line x1="108.00" y1="535.00" x2="108.00" y2="537.00" stroke="#2b2b2b" stroke-width="1.0"/>
<line x1="144.15" y1="535.00" x2="144.15" y2="537.00" stroke="#2b2b2b" stroke-width="1.0"/>
<line x1="55.70" y1="528.54" x2="159.90" y2="528.54" stroke="#333" stroke-width="0.7" stroke-dasharray="1.6,1.2"/>
<rect x="61.00" y="502.54" width="8.50" height="32.46" fill="#35a935" stroke="#23801f" stroke-width="0.5"/>
<line x1="65.25" y1="502.54" x2="65.25" y2="500.80" stroke="#1a1a1a" stroke-width="0.9"/>
<line x1="63.05" y1="500.80" x2="67.45" y2="500.80" stroke="#1a1a1a" stroke-width="0.9"/>
<rect x="74.30" y="502.19" width="8.50" height="32.81" fill="#5c1a6b" stroke="#3d0d4a" stroke-width="0.5"/>
<line x1="78.55" y1="502.19" x2="78.55" y2="499.40" stroke="#1a1a1a" stroke-width="0.9"/>
<line x1="76.35" y1="499.40" x2="80.75" y2="499.40" stroke="#1a1a1a" stroke-width="0.9"/>
<rect x="96.90" y="514.41" width="8.50" height="20.59" fill="#35a935" stroke="#23801f" stroke-width="0.5"/>
<line x1="101.15" y1="514.41" x2="101.15" y2="512.32" stroke="#1a1a1a" stroke-width="0.9"/>
<line x1="98.95" y1="512.32" x2="103.35" y2="512.32" stroke="#1a1a1a" stroke-width="0.9"/>
<text x="101.15" y="512.52" font-size="6.8" text-anchor="middle" fill="#333" font-weight="normal" letter-spacing="0.3">**</text>
<rect x="110.60" y="523.48" width="8.50" height="11.52" fill="#5c1a6b" stroke="#3d0d4a" stroke-width="0.5"/>
<line x1="114.85" y1="523.48" x2="114.85" y2="522.09" stroke="#1a1a1a" stroke-width="0.9"/>
<line x1="112.65" y1="522.09" x2="117.05" y2="522.09" stroke="#1a1a1a" stroke-width="0.9"/>
<text x="114.85" y="520.99" font-size="5.6" text-anchor="middle" fill="#333" font-weight="normal" stroke="#333" stroke-width="0.2">&amp;&amp;&amp;&amp;</text>
<rect x="133.00" y="515.80" width="8.60" height="19.20" fill="#35a935" stroke="#23801f" stroke-width="0.5"/>
<line x1="137.30" y1="515.80" x2="137.30" y2="512.66" stroke="#1a1a1a" stroke-width="0.9"/>
<line x1="135.10" y1="512.66" x2="139.50" y2="512.66" stroke="#1a1a1a" stroke-width="0.9"/>
<text x="137.30" y="512.86" font-size="6.8" text-anchor="middle" fill="#333" font-weight="normal" letter-spacing="0.3">**</text>
<rect x="146.60" y="517.20" width="8.70" height="17.80" fill="#5c1a6b" stroke="#3d0d4a" stroke-width="0.5"/>
<line x1="150.95" y1="517.20" x2="150.95" y2="515.11" stroke="#1a1a1a" stroke-width="0.9"/>
<line x1="148.75" y1="515.11" x2="153.15" y2="515.11" stroke="#1a1a1a" stroke-width="0.9"/>
<text x="150.95" y="514.01" font-size="5.6" text-anchor="middle" fill="#333" font-weight="normal" stroke="#333" stroke-width="0.2">&amp;&amp;&amp;</text>
<rect x="58.50" y="483.50" width="5.20" height="2.80" fill="#35a935" stroke="none" stroke-width="0"/>
<text x="67.00" y="487.14" font-size="6.5" text-anchor="start" fill="#3a3a3a" font-weight="normal" stroke="#3a3a3a" stroke-width="0.2">2h</text>
<rect x="58.50" y="490.10" width="5.20" height="2.80" fill="#5c1a6b" stroke="none" stroke-width="0"/>
<text x="67.00" y="493.74" font-size="6.5" text-anchor="start" fill="#3a3a3a" font-weight="normal" stroke="#3a3a3a" stroke-width="0.2">24h</text>
<text x="72.60" y="547.22" font-size="7.0" text-anchor="middle" fill="#3a3a3a" font-weight="normal" textLength="12.33" lengthAdjust="spacingAndGlyphs" stroke="#3a3a3a" stroke-width="0.2">PBS</text>
<text x="108.00" y="547.22" font-size="7.0" text-anchor="middle" fill="#3a3a3a" font-weight="normal" textLength="15.06" lengthAdjust="spacingAndGlyphs" stroke="#3a3a3a" stroke-width="0.2">CBC-</text>
<text x="108.00" y="554.12" font-size="7.0" text-anchor="middle" fill="#3a3a3a" font-weight="normal" textLength="10.28" lengthAdjust="spacingAndGlyphs" stroke="#3a3a3a" stroke-width="0.2">512</text>
<text x="144.20" y="547.22" font-size="7.0" text-anchor="middle" fill="#3a3a3a" font-weight="normal" textLength="19.86" lengthAdjust="spacingAndGlyphs" stroke="#3a3a3a" stroke-width="0.2">deCBC</text>
<text x="144.20" y="554.12" font-size="7.0" text-anchor="middle" fill="#3a3a3a" font-weight="normal" textLength="12.33" lengthAdjust="spacingAndGlyphs" stroke="#3a3a3a" stroke-width="0.2">-512</text>
<line x1="92.70" y1="558.30" x2="160.30" y2="558.30" stroke="#2b2b2b" stroke-width="0.9"/>
<line x1="92.70" y1="556.30" x2="92.70" y2="560.30" stroke="#2b2b2b" stroke-width="0.9"/>
<line x1="160.30" y1="556.30" x2="160.30" y2="560.30" stroke="#2b2b2b" stroke-width="0.9"/>
<text x="126.50" y="567.12" font-size="7.0" text-anchor="middle" fill="#3a3a3a" font-weight="normal" textLength="26.93" lengthAdjust="spacingAndGlyphs" stroke="#3a3a3a" stroke-width="0.2">Anti-Duffy</text>
<text transform="translate(24.34,507.50) rotate(-90)" font-size="7.6" text-anchor="middle" fill="#3a3a3a" font-weight="normal" textLength="71.40" lengthAdjust="spacingAndGlyphs" stroke="#3a3a3a" stroke-width="0.2">Duffy epitope remaining</text>
<text transform="translate(33.94,507.50) rotate(-90)" font-size="7.6" text-anchor="middle" fill="#3a3a3a" font-weight="normal" textLength="59.60" lengthAdjust="spacingAndGlyphs" stroke="#3a3a3a" stroke-width="0.2">(% of the initial MFI)</text>
<text x="6.80" y="595.95" font-size="11.8" text-anchor="start" fill="#111" font-weight="bold">F</text>
<line x1="55.50" y1="611.10" x2="55.50" y2="665.90" stroke="#2b2b2b" stroke-width="1.3"/>
<line x1="52.50" y1="665.30" x2="55.50" y2="665.30" stroke="#2b2b2b" stroke-width="1.0"/>
<text x="50.10" y="667.60" font-size="6.4" text-anchor="end" fill="#3a3a3a" font-weight="normal" stroke="#3a3a3a" stroke-width="0.1">25</text>
<line x1="52.50" y1="654.86" x2="55.50" y2="654.86" stroke="#2b2b2b" stroke-width="1.0"/>
<text x="50.10" y="657.16" font-size="6.4" text-anchor="end" fill="#3a3a3a" font-weight="normal" stroke="#3a3a3a" stroke-width="0.1">50</text>
<line x1="52.50" y1="644.42" x2="55.50" y2="644.42" stroke="#2b2b2b" stroke-width="1.0"/>
<text x="50.10" y="646.72" font-size="6.4" text-anchor="end" fill="#3a3a3a" font-weight="normal" stroke="#3a3a3a" stroke-width="0.1">75</text>
<line x1="52.50" y1="633.98" x2="55.50" y2="633.98" stroke="#2b2b2b" stroke-width="1.0"/>
<text x="50.10" y="636.28" font-size="6.4" text-anchor="end" fill="#3a3a3a" font-weight="normal" stroke="#3a3a3a" stroke-width="0.1">100</text>
<line x1="52.50" y1="623.54" x2="55.50" y2="623.54" stroke="#2b2b2b" stroke-width="1.0"/>
<text x="50.10" y="625.84" font-size="6.4" text-anchor="end" fill="#3a3a3a" font-weight="normal" stroke="#3a3a3a" stroke-width="0.1">125</text>
<line x1="52.50" y1="613.10" x2="55.50" y2="613.10" stroke="#2b2b2b" stroke-width="1.0"/>
<text x="50.10" y="615.40" font-size="6.4" text-anchor="end" fill="#3a3a3a" font-weight="normal" stroke="#3a3a3a" stroke-width="0.1">150</text>
<line x1="54.90" y1="665.30" x2="159.90" y2="665.30" stroke="#2b2b2b" stroke-width="1.3"/>
<line x1="71.90" y1="665.30" x2="71.90" y2="667.30" stroke="#2b2b2b" stroke-width="1.0"/>
<line x1="108.00" y1="665.30" x2="108.00" y2="667.30" stroke="#2b2b2b" stroke-width="1.0"/>
<line x1="144.15" y1="665.30" x2="144.15" y2="667.30" stroke="#2b2b2b" stroke-width="1.0"/>
<rect x="61.00" y="633.56" width="8.50" height="31.74" fill="#35a935" stroke="#23801f" stroke-width="0.5"/>
<line x1="65.25" y1="633.56" x2="65.25" y2="631.47" stroke="#1a1a1a" stroke-width="0.9"/>
<line x1="63.05" y1="631.47" x2="67.45" y2="631.47" stroke="#1a1a1a" stroke-width="0.9"/>
<rect x="74.30" y="633.98" width="8.50" height="31.32" fill="#5c1a6b" stroke="#3d0d4a" stroke-width="0.5"/>
<line x1="78.55" y1="633.98" x2="78.55" y2="632.31" stroke="#1a1a1a" stroke-width="0.9"/>
<line x1="76.35" y1="632.31" x2="80.75" y2="632.31" stroke="#1a1a1a" stroke-width="0.9"/>
<rect x="96.90" y="638.16" width="8.50" height="27.14" fill="#35a935" stroke="#23801f" stroke-width="0.5"/>
<line x1="101.15" y1="638.16" x2="101.15" y2="636.90" stroke="#1a1a1a" stroke-width="0.9"/>
<line x1="98.95" y1="636.90" x2="103.35" y2="636.90" stroke="#1a1a1a" stroke-width="0.9"/>
<text x="101.15" y="637.10" font-size="6.8" text-anchor="middle" fill="#333" font-weight="normal" letter-spacing="0.3">*</text>
<rect x="110.60" y="655.70" width="8.50" height="9.60" fill="#5c1a6b" stroke="#3d0d4a" stroke-width="0.5"/>
<line x1="114.85" y1="655.70" x2="114.85" y2="653.61" stroke="#1a1a1a" stroke-width="0.9"/>
<line x1="112.65" y1="653.61" x2="117.05" y2="653.61" stroke="#1a1a1a" stroke-width="0.9"/>
<text x="114.85" y="652.51" font-size="5.6" text-anchor="middle" fill="#333" font-weight="normal" stroke="#333" stroke-width="0.2">&amp;&amp;&amp;&amp;</text>
<rect x="133.00" y="635.65" width="8.60" height="29.65" fill="#35a935" stroke="#23801f" stroke-width="0.5"/>
<line x1="137.30" y1="635.65" x2="137.30" y2="634.61" stroke="#1a1a1a" stroke-width="0.9"/>
<line x1="135.10" y1="634.61" x2="139.50" y2="634.61" stroke="#1a1a1a" stroke-width="0.9"/>
<rect x="146.60" y="640.24" width="8.70" height="25.06" fill="#5c1a6b" stroke="#3d0d4a" stroke-width="0.5"/>
<line x1="150.95" y1="640.24" x2="150.95" y2="638.99" stroke="#1a1a1a" stroke-width="0.9"/>
<line x1="148.75" y1="638.99" x2="153.15" y2="638.99" stroke="#1a1a1a" stroke-width="0.9"/>
<text x="150.95" y="637.89" font-size="5.6" text-anchor="middle" fill="#333" font-weight="normal" stroke="#333" stroke-width="0.2">&amp;&amp;</text>
<rect x="58.50" y="613.50" width="5.20" height="2.80" fill="#35a935" stroke="none" stroke-width="0"/>
<text x="67.00" y="617.14" font-size="6.5" text-anchor="start" fill="#3a3a3a" font-weight="normal" stroke="#3a3a3a" stroke-width="0.2">2h</text>
<rect x="58.50" y="620.10" width="5.20" height="2.80" fill="#5c1a6b" stroke="none" stroke-width="0"/>
<text x="67.00" y="623.74" font-size="6.5" text-anchor="start" fill="#3a3a3a" font-weight="normal" stroke="#3a3a3a" stroke-width="0.2">24h</text>
<text x="72.60" y="677.22" font-size="7.0" text-anchor="middle" fill="#3a3a3a" font-weight="normal" textLength="12.33" lengthAdjust="spacingAndGlyphs" stroke="#3a3a3a" stroke-width="0.2">PBS</text>
<text x="108.00" y="677.22" font-size="7.0" text-anchor="middle" fill="#3a3a3a" font-weight="normal" textLength="13.01" lengthAdjust="spacingAndGlyphs" stroke="#3a3a3a" stroke-width="0.2">CBC</text>
<text x="108.00" y="684.52" font-size="7.0" text-anchor="middle" fill="#3a3a3a" font-weight="normal" textLength="12.33" lengthAdjust="spacingAndGlyphs" stroke="#3a3a3a" stroke-width="0.2">-512</text>
<text x="144.20" y="677.22" font-size="7.0" text-anchor="middle" fill="#3a3a3a" font-weight="normal" textLength="19.86" lengthAdjust="spacingAndGlyphs" stroke="#3a3a3a" stroke-width="0.2">deCBC</text>
<text x="144.20" y="684.52" font-size="7.0" text-anchor="middle" fill="#3a3a3a" font-weight="normal" textLength="12.33" lengthAdjust="spacingAndGlyphs" stroke="#3a3a3a" stroke-width="0.2">-512</text>
<line x1="92.00" y1="689.00" x2="160.30" y2="689.00" stroke="#2b2b2b" stroke-width="0.9"/>
<line x1="92.00" y1="687.00" x2="92.00" y2="691.00" stroke="#2b2b2b" stroke-width="0.9"/>
<line x1="160.30" y1="687.00" x2="160.30" y2="691.00" stroke="#2b2b2b" stroke-width="0.9"/>
<text x="126.00" y="697.12" font-size="7.0" text-anchor="middle" fill="#3a3a3a" font-weight="normal" textLength="26.93" lengthAdjust="spacingAndGlyphs" stroke="#3a3a3a" stroke-width="0.2">Anti-Duffy</text>
<text transform="translate(13.74,637.80) rotate(-90)" font-size="7.6" text-anchor="middle" fill="#3a3a3a" font-weight="normal" textLength="47.00" lengthAdjust="spacingAndGlyphs" stroke="#3a3a3a" stroke-width="0.2">RBC membrane</text>
<text transform="translate(24.14,638.30) rotate(-90)" font-size="7.6" text-anchor="middle" fill="#3a3a3a" font-weight="normal" textLength="69.70" lengthAdjust="spacingAndGlyphs" stroke="#3a3a3a" stroke-width="0.2">fluorescence remaining</text>
<text transform="translate(33.54,637.80) rotate(-90)" font-size="7.6" text-anchor="middle" fill="#3a3a3a" font-weight="normal" textLength="60.60" lengthAdjust="spacingAndGlyphs" stroke="#3a3a3a" stroke-width="0.2">(% of the initial MFI)</text>
<text x="176.00" y="466.15" font-size="11.8" text-anchor="start" fill="#111" font-weight="bold">K</text>
<line x1="215.20" y1="479.20" x2="215.20" y2="535.60" stroke="#2b2b2b" stroke-width="1.3"/>
<line x1="212.20" y1="535.00" x2="215.20" y2="535.00" stroke="#2b2b2b" stroke-width="1.0"/>
<text x="209.80" y="537.30" font-size="6.4" text-anchor="end" fill="#3a3a3a" font-weight="normal" stroke="#3a3a3a" stroke-width="0.1">50</text>
<line x1="212.20" y1="521.55" x2="215.20" y2="521.55" stroke="#2b2b2b" stroke-width="1.0"/>
<text x="209.80" y="523.85" font-size="6.4" text-anchor="end" fill="#3a3a3a" font-weight="normal" stroke="#3a3a3a" stroke-width="0.1">75</text>
<line x1="212.20" y1="508.10" x2="215.20" y2="508.10" stroke="#2b2b2b" stroke-width="1.0"/>
<text x="209.80" y="510.40" font-size="6.4" text-anchor="end" fill="#3a3a3a" font-weight="normal" stroke="#3a3a3a" stroke-width="0.1">100</text>
<line x1="212.20" y1="494.65" x2="215.20" y2="494.65" stroke="#2b2b2b" stroke-width="1.0"/>
<text x="209.80" y="496.95" font-size="6.4" text-anchor="end" fill="#3a3a3a" font-weight="normal" stroke="#3a3a3a" stroke-width="0.1">125</text>
<line x1="212.20" y1="481.20" x2="215.20" y2="481.20" stroke="#2b2b2b" stroke-width="1.0"/>
<text x="209.80" y="483.50" font-size="6.4" text-anchor="end" fill="#3a3a3a" font-weight="normal" stroke="#3a3a3a" stroke-width="0.1">150</text>
<line x1="214.60" y1="535.00" x2="319.90" y2="535.00" stroke="#2b2b2b" stroke-width="1.3"/>
<line x1="231.25" y1="535.00" x2="231.25" y2="537.00" stroke="#2b2b2b" stroke-width="1.0"/>
<line x1="267.50" y1="535.00" x2="267.50" y2="537.00" stroke="#2b2b2b" stroke-width="1.0"/>
<line x1="303.65" y1="535.00" x2="303.65" y2="537.00" stroke="#2b2b2b" stroke-width="1.0"/>
<line x1="215.20" y1="528.54" x2="319.90" y2="528.54" stroke="#333" stroke-width="0.7" stroke-dasharray="1.6,1.2"/>
<rect x="219.80" y="511.33" width="9.10" height="23.67" fill="#35a935" stroke="#23801f" stroke-width="0.5"/>
<line x1="224.35" y1="511.33" x2="224.35" y2="509.71" stroke="#1a1a1a" stroke-width="0.9"/>
<line x1="222.15" y1="509.71" x2="226.55" y2="509.71" stroke="#1a1a1a" stroke-width="0.9"/>
<rect x="234.00" y="511.33" width="8.70" height="23.67" fill="#5c1a6b" stroke="#3d0d4a" stroke-width="0.5"/>
<line x1="238.35" y1="511.33" x2="238.35" y2="509.71" stroke="#1a1a1a" stroke-width="0.9"/>
<line x1="236.15" y1="509.71" x2="240.55" y2="509.71" stroke="#1a1a1a" stroke-width="0.9"/>
<rect x="256.20" y="520.47" width="8.80" height="14.53" fill="#35a935" stroke="#23801f" stroke-width="0.5"/>
<line x1="260.60" y1="520.47" x2="260.60" y2="518.32" stroke="#1a1a1a" stroke-width="0.9"/>
<line x1="258.40" y1="518.32" x2="262.80" y2="518.32" stroke="#1a1a1a" stroke-width="0.9"/>
<text x="260.60" y="518.52" font-size="6.8" text-anchor="middle" fill="#333" font-weight="normal" letter-spacing="0.3">***</text>
<rect x="270.00" y="523.16" width="8.80" height="11.84" fill="#5c1a6b" stroke="#3d0d4a" stroke-width="0.5"/>
<line x1="274.40" y1="523.16" x2="274.40" y2="521.55" stroke="#1a1a1a" stroke-width="0.9"/>
<line x1="272.20" y1="521.55" x2="276.60" y2="521.55" stroke="#1a1a1a" stroke-width="0.9"/>
<text x="274.40" y="520.45" font-size="5.6" text-anchor="middle" fill="#333" font-weight="normal" stroke="#333" stroke-width="0.2">&amp;&amp;&amp;&amp;</text>
<rect x="292.20" y="522.09" width="9.10" height="12.91" fill="#35a935" stroke="#23801f" stroke-width="0.5"/>
<line x1="296.75" y1="522.09" x2="296.75" y2="521.01" stroke="#1a1a1a" stroke-width="0.9"/>
<line x1="294.55" y1="521.01" x2="298.95" y2="521.01" stroke="#1a1a1a" stroke-width="0.9"/>
<text x="296.75" y="521.21" font-size="6.8" text-anchor="middle" fill="#333" font-weight="normal" letter-spacing="0.3">****</text>
<rect x="306.40" y="521.55" width="8.70" height="13.45" fill="#5c1a6b" stroke="#3d0d4a" stroke-width="0.5"/>
<line x1="310.75" y1="521.55" x2="310.75" y2="519.94" stroke="#1a1a1a" stroke-width="0.9"/>
<line x1="308.55" y1="519.94" x2="312.95" y2="519.94" stroke="#1a1a1a" stroke-width="0.9"/>
<text x="310.75" y="518.84" font-size="5.6" text-anchor="middle" fill="#333" font-weight="normal" stroke="#333" stroke-width="0.2">&amp;&amp;&amp;&amp;</text>
<rect x="218.00" y="483.50" width="5.20" height="2.80" fill="#35a935" stroke="none" stroke-width="0"/>
<text x="226.50" y="487.14" font-size="6.5" text-anchor="start" fill="#3a3a3a" font-weight="normal" stroke="#3a3a3a" stroke-width="0.2">2h</text>
<rect x="218.00" y="490.10" width="5.20" height="2.80" fill="#5c1a6b" stroke="none" stroke-width="0"/>
<text x="226.50" y="493.74" font-size="6.5" text-anchor="start" fill="#3a3a3a" font-weight="normal" stroke="#3a3a3a" stroke-width="0.2">24h</text>
<text x="231.30" y="547.12" font-size="7.0" text-anchor="middle" fill="#3a3a3a" font-weight="normal" textLength="12.33" lengthAdjust="spacingAndGlyphs" stroke="#3a3a3a" stroke-width="0.2">PBS</text>
<text x="267.40" y="547.12" font-size="7.0" text-anchor="middle" fill="#3a3a3a" font-weight="normal" textLength="15.54" lengthAdjust="spacingAndGlyphs" stroke="#3a3a3a" stroke-width="0.2">25 µg</text>
<text x="303.70" y="547.12" font-size="7.0" text-anchor="middle" fill="#3a3a3a" font-weight="normal" textLength="15.54" lengthAdjust="spacingAndGlyphs" stroke="#3a3a3a" stroke-width="0.2">50 µg</text>
<line x1="246.80" y1="549.80" x2="319.80" y2="549.80" stroke="#2b2b2b" stroke-width="0.9"/>
<line x1="246.80" y1="547.80" x2="246.80" y2="551.80" stroke="#2b2b2b" stroke-width="0.9"/>
<line x1="319.80" y1="547.80" x2="319.80" y2="551.80" stroke="#2b2b2b" stroke-width="0.9"/>
<text x="286.20" y="557.82" font-size="7.0" text-anchor="middle" fill="#3a3a3a" font-weight="normal" textLength="39.94" lengthAdjust="spacingAndGlyphs" stroke="#3a3a3a" stroke-width="0.2">pIgG Anti-OVA</text>
<text transform="translate(184.34,507.30) rotate(-90)" font-size="7.6" text-anchor="middle" fill="#3a3a3a" font-weight="normal" textLength="67.50" lengthAdjust="spacingAndGlyphs" stroke="#3a3a3a" stroke-width="0.2">OVA epitope remaining</text>
<text transform="translate(193.74,507.30) rotate(-90)" font-size="7.6" text-anchor="middle" fill="#3a3a3a" font-weight="normal" textLength="60.10" lengthAdjust="spacingAndGlyphs" stroke="#3a3a3a" stroke-width="0.2">(% of the initial MFI)</text>
<text x="176.00" y="596.15" font-size="11.8" text-anchor="start" fill="#111" font-weight="bold">L</text>
<line x1="215.20" y1="610.40" x2="215.20" y2="665.90" stroke="#2b2b2b" stroke-width="1.3"/>
<line x1="212.20" y1="665.30" x2="215.20" y2="665.30" stroke="#2b2b2b" stroke-width="1.0"/>
<text x="209.80" y="667.60" font-size="6.4" text-anchor="end" fill="#3a3a3a" font-weight="normal" stroke="#3a3a3a" stroke-width="0.1">75</text>
<line x1="212.20" y1="638.85" x2="215.20" y2="638.85" stroke="#2b2b2b" stroke-width="1.0"/>
<text x="209.80" y="641.15" font-size="6.4" text-anchor="end" fill="#3a3a3a" font-weight="normal" stroke="#3a3a3a" stroke-width="0.1">100</text>
<line x1="212.20" y1="612.40" x2="215.20" y2="612.40" stroke="#2b2b2b" stroke-width="1.0"/>
<text x="209.80" y="614.70" font-size="6.4" text-anchor="end" fill="#3a3a3a" font-weight="normal" stroke="#3a3a3a" stroke-width="0.1">125</text>
<line x1="214.60" y1="665.30" x2="319.90" y2="665.30" stroke="#2b2b2b" stroke-width="1.3"/>
<line x1="231.25" y1="665.30" x2="231.25" y2="667.30" stroke="#2b2b2b" stroke-width="1.0"/>
<line x1="267.50" y1="665.30" x2="267.50" y2="667.30" stroke="#2b2b2b" stroke-width="1.0"/>
<line x1="303.65" y1="665.30" x2="303.65" y2="667.30" stroke="#2b2b2b" stroke-width="1.0"/>
<rect x="219.80" y="640.23" width="9.10" height="25.07" fill="#35a935" stroke="#23801f" stroke-width="0.5"/>
<line x1="224.35" y1="640.23" x2="224.35" y2="638.00" stroke="#1a1a1a" stroke-width="0.9"/>
<line x1="222.15" y1="638.00" x2="226.55" y2="638.00" stroke="#1a1a1a" stroke-width="0.9"/>
<rect x="234.00" y="639.38" width="8.70" height="25.92" fill="#5c1a6b" stroke="#3d0d4a" stroke-width="0.5"/>
<line x1="238.35" y1="639.38" x2="238.35" y2="636.95" stroke="#1a1a1a" stroke-width="0.9"/>
<line x1="236.15" y1="636.95" x2="240.55" y2="636.95" stroke="#1a1a1a" stroke-width="0.9"/>
<rect x="256.20" y="640.97" width="8.80" height="24.33" fill="#35a935" stroke="#23801f" stroke-width="0.5"/>
<line x1="260.60" y1="640.97" x2="260.60" y2="639.91" stroke="#1a1a1a" stroke-width="0.9"/>
<line x1="258.40" y1="639.91" x2="262.80" y2="639.91" stroke="#1a1a1a" stroke-width="0.9"/>
<rect x="270.00" y="644.67" width="8.80" height="20.63" fill="#5c1a6b" stroke="#3d0d4a" stroke-width="0.5"/>
<line x1="274.40" y1="644.67" x2="274.40" y2="643.08" stroke="#1a1a1a" stroke-width="0.9"/>
<line x1="272.20" y1="643.08" x2="276.60" y2="643.08" stroke="#1a1a1a" stroke-width="0.9"/>
<text x="274.40" y="641.98" font-size="5.6" text-anchor="middle" fill="#333" font-weight="normal" stroke="#333" stroke-width="0.2">&amp;</text>
<rect x="292.20" y="642.02" width="9.10" height="23.28" fill="#35a935" stroke="#23801f" stroke-width="0.5"/>
<line x1="296.75" y1="642.02" x2="296.75" y2="641.18" stroke="#1a1a1a" stroke-width="0.9"/>
<line x1="294.55" y1="641.18" x2="298.95" y2="641.18" stroke="#1a1a1a" stroke-width="0.9"/>
<rect x="306.40" y="646.78" width="8.70" height="18.51" fill="#5c1a6b" stroke="#3d0d4a" stroke-width="0.5"/>
<line x1="310.75" y1="646.78" x2="310.75" y2="645.62" stroke="#1a1a1a" stroke-width="0.9"/>
<line x1="308.55" y1="645.62" x2="312.95" y2="645.62" stroke="#1a1a1a" stroke-width="0.9"/>
<text x="310.75" y="644.52" font-size="5.6" text-anchor="middle" fill="#333" font-weight="normal" stroke="#333" stroke-width="0.2">&amp;&amp;&amp;</text>
<rect x="218.00" y="613.50" width="5.20" height="2.80" fill="#35a935" stroke="none" stroke-width="0"/>
<text x="226.50" y="617.14" font-size="6.5" text-anchor="start" fill="#3a3a3a" font-weight="normal" stroke="#3a3a3a" stroke-width="0.2">2h</text>
<rect x="218.00" y="620.10" width="5.20" height="2.80" fill="#5c1a6b" stroke="none" stroke-width="0"/>
<text x="226.50" y="623.74" font-size="6.5" text-anchor="start" fill="#3a3a3a" font-weight="normal" stroke="#3a3a3a" stroke-width="0.2">24h</text>
<text x="231.30" y="677.12" font-size="7.0" text-anchor="middle" fill="#3a3a3a" font-weight="normal" textLength="12.33" lengthAdjust="spacingAndGlyphs" stroke="#3a3a3a" stroke-width="0.2">PBS</text>
<text x="267.40" y="677.12" font-size="7.0" text-anchor="middle" fill="#3a3a3a" font-weight="normal" textLength="15.54" lengthAdjust="spacingAndGlyphs" stroke="#3a3a3a" stroke-width="0.2">25 µg</text>
<text x="303.70" y="677.12" font-size="7.0" text-anchor="middle" fill="#3a3a3a" font-weight="normal" textLength="15.54" lengthAdjust="spacingAndGlyphs" stroke="#3a3a3a" stroke-width="0.2">50 µg</text>
<line x1="246.80" y1="681.50" x2="319.80" y2="681.50" stroke="#2b2b2b" stroke-width="0.9"/>
<line x1="246.80" y1="679.50" x2="246.80" y2="683.50" stroke="#2b2b2b" stroke-width="0.9"/>
<line x1="319.80" y1="679.50" x2="319.80" y2="683.50" stroke="#2b2b2b" stroke-width="0.9"/>
<text x="286.20" y="689.52" font-size="7.0" text-anchor="middle" fill="#3a3a3a" font-weight="normal" textLength="39.60" lengthAdjust="spacingAndGlyphs" stroke="#3a3a3a" stroke-width="0.2">pIgG anti-OVA</text>
<text transform="translate(173.74,638.00) rotate(-90)" font-size="7.6" text-anchor="middle" fill="#3a3a3a" font-weight="normal" textLength="46.50" lengthAdjust="spacingAndGlyphs" stroke="#3a3a3a" stroke-width="0.2">RBC membrane</text>
<text transform="translate(184.44,638.30) rotate(-90)" font-size="7.6" text-anchor="middle" fill="#3a3a3a" font-weight="normal" textLength="69.70" lengthAdjust="spacingAndGlyphs" stroke="#3a3a3a" stroke-width="0.2">fluorescence remaining</text>
<text transform="translate(193.84,637.80) rotate(-90)" font-size="7.6" text-anchor="middle" fill="#3a3a3a" font-weight="normal" textLength="60.50" lengthAdjust="spacingAndGlyphs" stroke="#3a3a3a" stroke-width="0.2">(% of the initial MFI)</text>
<text x="338.40" y="466.35" font-size="11.8" text-anchor="start" fill="#111" font-weight="bold">Q</text>
<line x1="374.90" y1="475.70" x2="374.90" y2="536.00" stroke="#2b2b2b" stroke-width="1.3"/>
<line x1="371.90" y1="535.40" x2="374.90" y2="535.40" stroke="#2b2b2b" stroke-width="1.0"/>
<text x="369.50" y="537.70" font-size="6.4" text-anchor="end" fill="#3a3a3a" font-weight="normal" stroke="#3a3a3a" stroke-width="0.1">25</text>
<line x1="371.90" y1="523.86" x2="374.90" y2="523.86" stroke="#2b2b2b" stroke-width="1.0"/>
<text x="369.50" y="526.16" font-size="6.4" text-anchor="end" fill="#3a3a3a" font-weight="normal" stroke="#3a3a3a" stroke-width="0.1">50</text>
<line x1="371.90" y1="512.32" x2="374.90" y2="512.32" stroke="#2b2b2b" stroke-width="1.0"/>
<text x="369.50" y="514.62" font-size="6.4" text-anchor="end" fill="#3a3a3a" font-weight="normal" stroke="#3a3a3a" stroke-width="0.1">75</text>
<line x1="371.90" y1="500.78" x2="374.90" y2="500.78" stroke="#2b2b2b" stroke-width="1.0"/>
<text x="369.50" y="503.08" font-size="6.4" text-anchor="end" fill="#3a3a3a" font-weight="normal" stroke="#3a3a3a" stroke-width="0.1">100</text>
<line x1="371.90" y1="489.24" x2="374.90" y2="489.24" stroke="#2b2b2b" stroke-width="1.0"/>
<text x="369.50" y="491.54" font-size="6.4" text-anchor="end" fill="#3a3a3a" font-weight="normal" stroke="#3a3a3a" stroke-width="0.1">125</text>
<line x1="371.90" y1="477.70" x2="374.90" y2="477.70" stroke="#2b2b2b" stroke-width="1.0"/>
<text x="369.50" y="480.00" font-size="6.4" text-anchor="end" fill="#3a3a3a" font-weight="normal" stroke="#3a3a3a" stroke-width="0.1">150</text>
<line x1="374.30" y1="535.40" x2="510.10" y2="535.40" stroke="#2b2b2b" stroke-width="1.3"/>
<line x1="386.95" y1="535.40" x2="386.95" y2="537.40" stroke="#2b2b2b" stroke-width="1.0"/>
<line x1="414.75" y1="535.40" x2="414.75" y2="537.40" stroke="#2b2b2b" stroke-width="1.0"/>
<line x1="442.45" y1="535.40" x2="442.45" y2="537.40" stroke="#2b2b2b" stroke-width="1.0"/>
<line x1="470.05" y1="535.40" x2="470.05" y2="537.40" stroke="#2b2b2b" stroke-width="1.0"/>
<line x1="497.45" y1="535.40" x2="497.45" y2="537.40" stroke="#2b2b2b" stroke-width="1.0"/>
<line x1="374.90" y1="530.78" x2="510.10" y2="530.78" stroke="#333" stroke-width="0.7" stroke-dasharray="1.6,1.2"/>
<rect x="378.40" y="501.70" width="6.40" height="33.70" fill="#35a935" stroke="#23801f" stroke-width="0.5"/>
<line x1="381.60" y1="501.70" x2="381.60" y2="499.86" stroke="#1a1a1a" stroke-width="0.9"/>
<line x1="379.40" y1="499.86" x2="383.80" y2="499.86" stroke="#1a1a1a" stroke-width="0.9"/>
<rect x="389.10" y="500.78" width="6.40" height="34.62" fill="#5c1a6b" stroke="#3d0d4a" stroke-width="0.5"/>
<line x1="392.30" y1="500.78" x2="392.30" y2="499.86" stroke="#1a1a1a" stroke-width="0.9"/>
<line x1="390.10" y1="499.86" x2="394.50" y2="499.86" stroke="#1a1a1a" stroke-width="0.9"/>
<rect x="406.20" y="528.94" width="6.40" height="6.46" fill="#35a935" stroke="#23801f" stroke-width="0.5"/>
<line x1="409.40" y1="528.94" x2="409.40" y2="527.55" stroke="#1a1a1a" stroke-width="0.9"/>
<line x1="407.20" y1="527.55" x2="411.60" y2="527.55" stroke="#1a1a1a" stroke-width="0.9"/>
<text x="408.40" y="527.75" font-size="6.8" text-anchor="middle" fill="#333" font-weight="normal" letter-spacing="0.3">****</text>
<rect x="416.90" y="529.86" width="6.40" height="5.54" fill="#5c1a6b" stroke="#3d0d4a" stroke-width="0.5"/>
<line x1="420.10" y1="529.86" x2="420.10" y2="528.48" stroke="#1a1a1a" stroke-width="0.9"/>
<line x1="417.90" y1="528.48" x2="422.30" y2="528.48" stroke="#1a1a1a" stroke-width="0.9"/>
<text x="423.10" y="527.38" font-size="5.6" text-anchor="middle" fill="#333" font-weight="normal" stroke="#333" stroke-width="0.2">&amp;&amp;&amp;&amp;</text>
<rect x="433.90" y="501.70" width="6.40" height="33.70" fill="#35a935" stroke="#23801f" stroke-width="0.5"/>
<line x1="437.10" y1="501.70" x2="437.10" y2="500.32" stroke="#1a1a1a" stroke-width="0.9"/>
<line x1="434.90" y1="500.32" x2="439.30" y2="500.32" stroke="#1a1a1a" stroke-width="0.9"/>
<rect x="444.60" y="505.40" width="6.40" height="30.00" fill="#5c1a6b" stroke="#3d0d4a" stroke-width="0.5"/>
<line x1="447.80" y1="505.40" x2="447.80" y2="504.01" stroke="#1a1a1a" stroke-width="0.9"/>
<line x1="445.60" y1="504.01" x2="450.00" y2="504.01" stroke="#1a1a1a" stroke-width="0.9"/>
<rect x="461.70" y="503.55" width="6.00" height="31.85" fill="#35a935" stroke="#23801f" stroke-width="0.5"/>
<line x1="464.70" y1="503.55" x2="464.70" y2="502.63" stroke="#1a1a1a" stroke-width="0.9"/>
<line x1="462.50" y1="502.63" x2="466.90" y2="502.63" stroke="#1a1a1a" stroke-width="0.9"/>
<rect x="472.00" y="504.93" width="6.40" height="30.47" fill="#5c1a6b" stroke="#3d0d4a" stroke-width="0.5"/>
<line x1="475.20" y1="504.93" x2="475.20" y2="503.09" stroke="#1a1a1a" stroke-width="0.9"/>
<line x1="473.00" y1="503.09" x2="477.40" y2="503.09" stroke="#1a1a1a" stroke-width="0.9"/>
<rect x="488.70" y="526.17" width="6.40" height="9.23" fill="#35a935" stroke="#23801f" stroke-width="0.5"/>
<line x1="491.90" y1="526.17" x2="491.90" y2="523.40" stroke="#1a1a1a" stroke-width="0.9"/>
<line x1="489.70" y1="523.40" x2="494.10" y2="523.40" stroke="#1a1a1a" stroke-width="0.9"/>
<text x="490.90" y="523.60" font-size="6.8" text-anchor="middle" fill="#333" font-weight="normal" letter-spacing="0.3">****</text>
<rect x="499.80" y="528.48" width="6.40" height="6.92" fill="#5c1a6b" stroke="#3d0d4a" stroke-width="0.5"/>
<line x1="503.00" y1="528.48" x2="503.00" y2="526.63" stroke="#1a1a1a" stroke-width="0.9"/>
<line x1="500.80" y1="526.63" x2="505.20" y2="526.63" stroke="#1a1a1a" stroke-width="0.9"/>
<text x="506.00" y="525.53" font-size="5.6" text-anchor="middle" fill="#333" font-weight="normal" stroke="#333" stroke-width="0.2">&amp;&amp;&amp;&amp;</text>
<rect x="378.00" y="479.20" width="5.20" height="2.80" fill="#35a935" stroke="none" stroke-width="0"/>
<text x="386.50" y="482.84" font-size="6.5" text-anchor="start" fill="#3a3a3a" font-weight="normal" stroke="#3a3a3a" stroke-width="0.2">2h</text>
<rect x="378.00" y="485.80" width="5.20" height="2.80" fill="#5c1a6b" stroke="none" stroke-width="0"/>
<text x="386.50" y="489.44" font-size="6.5" text-anchor="start" fill="#3a3a3a" font-weight="normal" stroke="#3a3a3a" stroke-width="0.2">24h</text>
<text x="387.30" y="547.22" font-size="7.0" text-anchor="middle" fill="#3a3a3a" font-weight="normal" textLength="12.33" lengthAdjust="spacingAndGlyphs" stroke="#3a3a3a" stroke-width="0.2">PBS</text>
<text x="415.00" y="547.22" font-size="7.0" text-anchor="middle" fill="#3a3a3a" font-weight="normal" textLength="13.35" lengthAdjust="spacingAndGlyphs" stroke="#3a3a3a" stroke-width="0.2">pIgG</text>
<text x="442.80" y="547.22" font-size="7.0" text-anchor="middle" fill="#3a3a3a" font-weight="normal" textLength="10.96" lengthAdjust="spacingAndGlyphs" stroke="#3a3a3a" stroke-width="0.2">4B7</text>
<text x="470.20" y="547.22" font-size="7.0" text-anchor="middle" fill="#3a3a3a" font-weight="normal" textLength="10.61" lengthAdjust="spacingAndGlyphs" stroke="#3a3a3a" stroke-width="0.2">2F4</text>
<text x="497.60" y="547.22" font-size="7.0" text-anchor="middle" fill="#3a3a3a" font-weight="normal" textLength="25.17" lengthAdjust="spacingAndGlyphs" stroke="#3a3a3a" stroke-width="0.2">4B7+2F4</text>
<line x1="400.10" y1="549.80" x2="511.90" y2="549.80" stroke="#2b2b2b" stroke-width="0.9"/>
<line x1="400.10" y1="547.80" x2="400.10" y2="551.80" stroke="#2b2b2b" stroke-width="0.9"/>
<line x1="511.90" y1="547.80" x2="511.90" y2="551.80" stroke="#2b2b2b" stroke-width="0.9"/>
<text x="456.00" y="558.22" font-size="7.0" text-anchor="middle" fill="#3a3a3a" font-weight="normal" textLength="24.65" lengthAdjust="spacingAndGlyphs" stroke="#3a3a3a" stroke-width="0.2">Anti-HEL</text>
<text transform="translate(343.94,507.30) rotate(-90)" font-size="7.6" text-anchor="middle" fill="#3a3a3a" font-weight="normal" textLength="67.50" lengthAdjust="spacingAndGlyphs" stroke="#3a3a3a" stroke-width="0.2">HEL epitope remaining</text>
<text transform="translate(353.64,507.30) rotate(-90)" font-size="7.6" text-anchor="middle" fill="#3a3a3a" font-weight="normal" textLength="60.10" lengthAdjust="spacingAndGlyphs" stroke="#3a3a3a" stroke-width="0.2">(% of the initial MFI)</text>
<text x="338.40" y="595.95" font-size="11.8" text-anchor="start" fill="#111" font-weight="bold">R</text>
<line x1="375.00" y1="605.80" x2="375.00" y2="665.80" stroke="#2b2b2b" stroke-width="1.3"/>
<line x1="372.00" y1="665.20" x2="375.00" y2="665.20" stroke="#2b2b2b" stroke-width="1.0"/>
<text x="369.60" y="667.50" font-size="6.4" text-anchor="end" fill="#3a3a3a" font-weight="normal" stroke="#3a3a3a" stroke-width="0.1">75</text>
<line x1="372.00" y1="636.50" x2="375.00" y2="636.50" stroke="#2b2b2b" stroke-width="1.0"/>
<text x="369.60" y="638.80" font-size="6.4" text-anchor="end" fill="#3a3a3a" font-weight="normal" stroke="#3a3a3a" stroke-width="0.1">100</text>
<line x1="372.00" y1="607.80" x2="375.00" y2="607.80" stroke="#2b2b2b" stroke-width="1.0"/>
<text x="369.60" y="610.10" font-size="6.4" text-anchor="end" fill="#3a3a3a" font-weight="normal" stroke="#3a3a3a" stroke-width="0.1">125</text>
<line x1="374.40" y1="665.20" x2="505.80" y2="665.20" stroke="#2b2b2b" stroke-width="1.3"/>
<line x1="386.40" y1="665.20" x2="386.40" y2="667.20" stroke="#2b2b2b" stroke-width="1.0"/>
<line x1="413.35" y1="665.20" x2="413.35" y2="667.20" stroke="#2b2b2b" stroke-width="1.0"/>
<line x1="440.30" y1="665.20" x2="440.30" y2="667.20" stroke="#2b2b2b" stroke-width="1.0"/>
<line x1="467.25" y1="665.20" x2="467.25" y2="667.20" stroke="#2b2b2b" stroke-width="1.0"/>
<line x1="494.20" y1="665.20" x2="494.20" y2="667.20" stroke="#2b2b2b" stroke-width="1.0"/>
<rect x="378.10" y="636.50" width="6.60" height="28.70" fill="#35a935" stroke="#23801f" stroke-width="0.5"/>
<line x1="381.40" y1="636.50" x2="381.40" y2="634.78" stroke="#1a1a1a" stroke-width="0.9"/>
<line x1="379.20" y1="634.78" x2="383.60" y2="634.78" stroke="#1a1a1a" stroke-width="0.9"/>
<rect x="388.10" y="637.88" width="6.60" height="27.32" fill="#5c1a6b" stroke="#3d0d4a" stroke-width="0.5"/>
<line x1="391.40" y1="637.88" x2="391.40" y2="636.96" stroke="#1a1a1a" stroke-width="0.9"/>
<line x1="389.20" y1="636.96" x2="393.60" y2="636.96" stroke="#1a1a1a" stroke-width="0.9"/>
<rect x="405.05" y="641.32" width="6.60" height="23.88" fill="#35a935" stroke="#23801f" stroke-width="0.5"/>
<line x1="408.35" y1="641.32" x2="408.35" y2="639.71" stroke="#1a1a1a" stroke-width="0.9"/>
<line x1="406.15" y1="639.71" x2="410.55" y2="639.71" stroke="#1a1a1a" stroke-width="0.9"/>
<text x="408.35" y="639.91" font-size="6.8" text-anchor="middle" fill="#333" font-weight="normal" letter-spacing="0.3">*</text>
<rect x="415.05" y="643.50" width="6.60" height="21.70" fill="#5c1a6b" stroke="#3d0d4a" stroke-width="0.5"/>
<line x1="418.35" y1="643.50" x2="418.35" y2="642.47" stroke="#1a1a1a" stroke-width="0.9"/>
<line x1="416.15" y1="642.47" x2="420.55" y2="642.47" stroke="#1a1a1a" stroke-width="0.9"/>
<text x="418.35" y="641.37" font-size="5.6" text-anchor="middle" fill="#333" font-weight="normal" stroke="#333" stroke-width="0.2">&amp;&amp;</text>
<rect x="432.00" y="634.20" width="6.60" height="31.00" fill="#35a935" stroke="#23801f" stroke-width="0.5"/>
<line x1="435.30" y1="634.20" x2="435.30" y2="633.52" stroke="#1a1a1a" stroke-width="0.9"/>
<line x1="433.10" y1="633.52" x2="437.50" y2="633.52" stroke="#1a1a1a" stroke-width="0.9"/>
<rect x="442.00" y="637.65" width="6.60" height="27.55" fill="#5c1a6b" stroke="#3d0d4a" stroke-width="0.5"/>
<line x1="445.30" y1="637.65" x2="445.30" y2="635.81" stroke="#1a1a1a" stroke-width="0.9"/>
<line x1="443.10" y1="635.81" x2="447.50" y2="635.81" stroke="#1a1a1a" stroke-width="0.9"/>
<rect x="458.95" y="635.93" width="6.60" height="29.27" fill="#35a935" stroke="#23801f" stroke-width="0.5"/>
<line x1="462.25" y1="635.93" x2="462.25" y2="634.89" stroke="#1a1a1a" stroke-width="0.9"/>
<line x1="460.05" y1="634.89" x2="464.45" y2="634.89" stroke="#1a1a1a" stroke-width="0.9"/>
<rect x="468.95" y="637.65" width="6.60" height="27.55" fill="#5c1a6b" stroke="#3d0d4a" stroke-width="0.5"/>
<line x1="472.25" y1="637.65" x2="472.25" y2="636.27" stroke="#1a1a1a" stroke-width="0.9"/>
<line x1="470.05" y1="636.27" x2="474.45" y2="636.27" stroke="#1a1a1a" stroke-width="0.9"/>
<rect x="485.90" y="638.80" width="6.60" height="26.40" fill="#35a935" stroke="#23801f" stroke-width="0.5"/>
<line x1="489.20" y1="638.80" x2="489.20" y2="637.30" stroke="#1a1a1a" stroke-width="0.9"/>
<line x1="487.00" y1="637.30" x2="491.40" y2="637.30" stroke="#1a1a1a" stroke-width="0.9"/>
<rect x="495.90" y="642.81" width="6.60" height="22.39" fill="#5c1a6b" stroke="#3d0d4a" stroke-width="0.5"/>
<line x1="499.20" y1="642.81" x2="499.20" y2="641.78" stroke="#1a1a1a" stroke-width="0.9"/>
<line x1="497.00" y1="641.78" x2="501.40" y2="641.78" stroke="#1a1a1a" stroke-width="0.9"/>
<text x="499.20" y="640.68" font-size="5.6" text-anchor="middle" fill="#333" font-weight="normal" stroke="#333" stroke-width="0.2">&amp;</text>
<rect x="377.80" y="609.70" width="5.20" height="2.80" fill="#35a935" stroke="none" stroke-width="0"/>
<text x="386.30" y="613.34" font-size="6.5" text-anchor="start" fill="#3a3a3a" font-weight="normal" stroke="#3a3a3a" stroke-width="0.2">2h</text>
<rect x="377.80" y="616.30" width="5.20" height="2.80" fill="#5c1a6b" stroke="none" stroke-width="0"/>
<text x="386.30" y="619.94" font-size="6.5" text-anchor="start" fill="#3a3a3a" font-weight="normal" stroke="#3a3a3a" stroke-width="0.2">24h</text>
<text x="386.40" y="677.22" font-size="7.0" text-anchor="middle" fill="#3a3a3a" font-weight="normal" textLength="12.33" lengthAdjust="spacingAndGlyphs" stroke="#3a3a3a" stroke-width="0.2">PBS</text>
<text x="413.35" y="677.22" font-size="7.0" text-anchor="middle" fill="#3a3a3a" font-weight="normal" textLength="13.35" lengthAdjust="spacingAndGlyphs" stroke="#3a3a3a" stroke-width="0.2">pIgG</text>
<text x="440.30" y="677.22" font-size="7.0" text-anchor="middle" fill="#3a3a3a" font-weight="normal" textLength="10.96" lengthAdjust="spacingAndGlyphs" stroke="#3a3a3a" stroke-width="0.2">4B7</text>
<text x="467.25" y="677.22" font-size="7.0" text-anchor="middle" fill="#3a3a3a" font-weight="normal" textLength="10.61" lengthAdjust="spacingAndGlyphs" stroke="#3a3a3a" stroke-width="0.2">2F4</text>
<text x="494.20" y="677.22" font-size="7.0" text-anchor="middle" fill="#3a3a3a" font-weight="normal" textLength="25.17" lengthAdjust="spacingAndGlyphs" stroke="#3a3a3a" stroke-width="0.2">4B7+2F4</text>
<line x1="401.00" y1="680.40" x2="506.50" y2="680.40" stroke="#2b2b2b" stroke-width="0.9"/>
<line x1="401.00" y1="678.40" x2="401.00" y2="682.40" stroke="#2b2b2b" stroke-width="0.9"/>
<line x1="506.50" y1="678.40" x2="506.50" y2="682.40" stroke="#2b2b2b" stroke-width="0.9"/>
<text x="456.60" y="688.82" font-size="7.0" text-anchor="middle" fill="#3a3a3a" font-weight="normal" textLength="24.65" lengthAdjust="spacingAndGlyphs" stroke="#3a3a3a" stroke-width="0.2">Anti-HEL</text>
<text transform="translate(333.04,635.60) rotate(-90)" font-size="7.6" text-anchor="middle" fill="#3a3a3a" font-weight="normal" textLength="46.70" lengthAdjust="spacingAndGlyphs" stroke="#3a3a3a" stroke-width="0.2">RBC membrane</text>
<text transform="translate(343.14,636.00) rotate(-90)" font-size="7.6" text-anchor="middle" fill="#3a3a3a" font-weight="normal" textLength="68.00" lengthAdjust="spacingAndGlyphs" stroke="#3a3a3a" stroke-width="0.2">fluorescence remaining</text>
<text transform="translate(352.94,635.70) rotate(-90)" font-size="7.6" text-anchor="middle" fill="#3a3a3a" font-weight="normal" textLength="59.40" lengthAdjust="spacingAndGlyphs" stroke="#3a3a3a" stroke-width="0.2">(% of the initial MFI)</text>
</svg>
<svg class="frame" width="520" height="705" viewBox="0 0 520 705" style="filter:none">
<rect x="0.5" y="0.5" width="519" height="704" fill="none" stroke="#454545" stroke-width="1"/>
<line x1="0" y1="703.5" x2="520" y2="703.5" stroke="#454545" stroke-width="1" opacity="0.35"/>
</svg></div></body></html>
